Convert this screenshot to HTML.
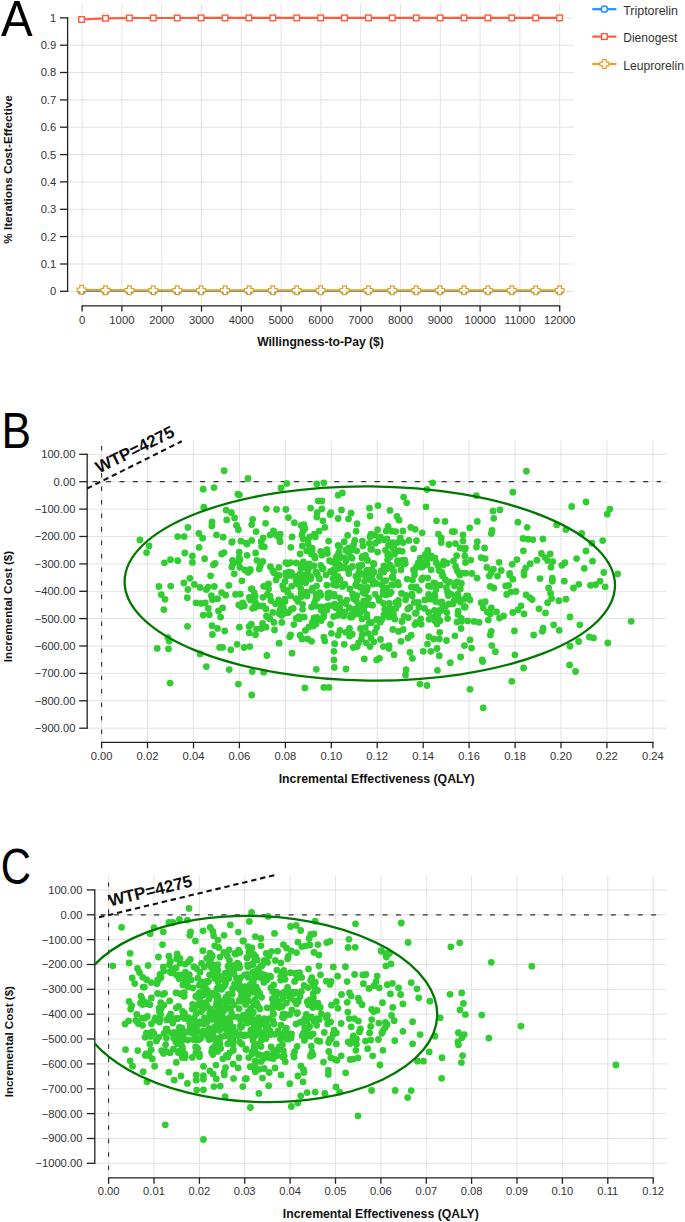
<!DOCTYPE html>
<html><head><meta charset="utf-8"><style>
html,body{margin:0;padding:0;background:#fff;width:685px;height:1222px;overflow:hidden}
svg{display:block}
</style></head><body>
<svg width="685" height="1222" viewBox="0 0 685 1222">
<defs><clipPath id="clipB"><rect x="87.2" y="430" width="600" height="320"/></clipPath><clipPath id="clipC"><rect x="94.8" y="860" width="600" height="330"/></clipPath></defs>
<line x1="82.1" y1="3.5" x2="82.1" y2="306" stroke="#e3e3e3" stroke-width="1"/>
<line x1="121.9" y1="3.5" x2="121.9" y2="306" stroke="#e3e3e3" stroke-width="1"/>
<line x1="161.7" y1="3.5" x2="161.7" y2="306" stroke="#e3e3e3" stroke-width="1"/>
<line x1="201.5" y1="3.5" x2="201.5" y2="306" stroke="#e3e3e3" stroke-width="1"/>
<line x1="241.3" y1="3.5" x2="241.3" y2="306" stroke="#e3e3e3" stroke-width="1"/>
<line x1="281.1" y1="3.5" x2="281.1" y2="306" stroke="#e3e3e3" stroke-width="1"/>
<line x1="320.9" y1="3.5" x2="320.9" y2="306" stroke="#e3e3e3" stroke-width="1"/>
<line x1="360.7" y1="3.5" x2="360.7" y2="306" stroke="#e3e3e3" stroke-width="1"/>
<line x1="400.5" y1="3.5" x2="400.5" y2="306" stroke="#e3e3e3" stroke-width="1"/>
<line x1="440.3" y1="3.5" x2="440.3" y2="306" stroke="#e3e3e3" stroke-width="1"/>
<line x1="480.1" y1="3.5" x2="480.1" y2="306" stroke="#e3e3e3" stroke-width="1"/>
<line x1="519.9" y1="3.5" x2="519.9" y2="306" stroke="#e3e3e3" stroke-width="1"/>
<line x1="559.7" y1="3.5" x2="559.7" y2="306" stroke="#e3e3e3" stroke-width="1"/>
<line x1="68" y1="291.3" x2="574" y2="291.3" stroke="#e3e3e3" stroke-width="1"/>
<line x1="68" y1="264.0" x2="574" y2="264.0" stroke="#e3e3e3" stroke-width="1"/>
<line x1="68" y1="236.6" x2="574" y2="236.6" stroke="#e3e3e3" stroke-width="1"/>
<line x1="68" y1="209.3" x2="574" y2="209.3" stroke="#e3e3e3" stroke-width="1"/>
<line x1="68" y1="181.9" x2="574" y2="181.9" stroke="#e3e3e3" stroke-width="1"/>
<line x1="68" y1="154.6" x2="574" y2="154.6" stroke="#e3e3e3" stroke-width="1"/>
<line x1="68" y1="127.2" x2="574" y2="127.2" stroke="#e3e3e3" stroke-width="1"/>
<line x1="68" y1="99.9" x2="574" y2="99.9" stroke="#e3e3e3" stroke-width="1"/>
<line x1="68" y1="72.5" x2="574" y2="72.5" stroke="#e3e3e3" stroke-width="1"/>
<line x1="68" y1="45.2" x2="574" y2="45.2" stroke="#e3e3e3" stroke-width="1"/>
<line x1="68" y1="17.9" x2="574" y2="17.9" stroke="#e3e3e3" stroke-width="1"/>
<line x1="67.6" y1="17.2" x2="67.6" y2="291.9" stroke="#222" stroke-width="1.3"/>
<line x1="60" y1="291.3" x2="67.6" y2="291.3" stroke="#222" stroke-width="1.3"/>
<text x="56.2" y="295.2" text-anchor="end" font-size="11.2" fill="#333" font-family="Liberation Sans, sans-serif">0</text>
<line x1="60" y1="264.0" x2="67.6" y2="264.0" stroke="#222" stroke-width="1.3"/>
<text x="56.2" y="267.9" text-anchor="end" font-size="11.2" fill="#333" font-family="Liberation Sans, sans-serif">0.1</text>
<line x1="60" y1="236.6" x2="67.6" y2="236.6" stroke="#222" stroke-width="1.3"/>
<text x="56.2" y="240.5" text-anchor="end" font-size="11.2" fill="#333" font-family="Liberation Sans, sans-serif">0.2</text>
<line x1="60" y1="209.3" x2="67.6" y2="209.3" stroke="#222" stroke-width="1.3"/>
<text x="56.2" y="213.2" text-anchor="end" font-size="11.2" fill="#333" font-family="Liberation Sans, sans-serif">0.3</text>
<line x1="60" y1="181.9" x2="67.6" y2="181.9" stroke="#222" stroke-width="1.3"/>
<text x="56.2" y="185.8" text-anchor="end" font-size="11.2" fill="#333" font-family="Liberation Sans, sans-serif">0.4</text>
<line x1="60" y1="154.6" x2="67.6" y2="154.6" stroke="#222" stroke-width="1.3"/>
<text x="56.2" y="158.5" text-anchor="end" font-size="11.2" fill="#333" font-family="Liberation Sans, sans-serif">0.5</text>
<line x1="60" y1="127.2" x2="67.6" y2="127.2" stroke="#222" stroke-width="1.3"/>
<text x="56.2" y="131.1" text-anchor="end" font-size="11.2" fill="#333" font-family="Liberation Sans, sans-serif">0.6</text>
<line x1="60" y1="99.9" x2="67.6" y2="99.9" stroke="#222" stroke-width="1.3"/>
<text x="56.2" y="103.8" text-anchor="end" font-size="11.2" fill="#333" font-family="Liberation Sans, sans-serif">0.7</text>
<line x1="60" y1="72.5" x2="67.6" y2="72.5" stroke="#222" stroke-width="1.3"/>
<text x="56.2" y="76.4" text-anchor="end" font-size="11.2" fill="#333" font-family="Liberation Sans, sans-serif">0.8</text>
<line x1="60" y1="45.2" x2="67.6" y2="45.2" stroke="#222" stroke-width="1.3"/>
<text x="56.2" y="49.1" text-anchor="end" font-size="11.2" fill="#333" font-family="Liberation Sans, sans-serif">0.9</text>
<line x1="60" y1="17.9" x2="67.6" y2="17.9" stroke="#222" stroke-width="1.3"/>
<text x="56.2" y="21.8" text-anchor="end" font-size="11.2" fill="#333" font-family="Liberation Sans, sans-serif">1</text>
<line x1="81.5" y1="305.9" x2="560.3" y2="305.9" stroke="#222" stroke-width="1.3"/>
<line x1="82.1" y1="305.9" x2="82.1" y2="311.6" stroke="#222" stroke-width="1.3"/>
<text x="82.1" y="323.8" text-anchor="middle" font-size="11.3" fill="#333" font-family="Liberation Sans, sans-serif">0</text>
<line x1="121.9" y1="305.9" x2="121.9" y2="311.6" stroke="#222" stroke-width="1.3"/>
<text x="121.9" y="323.8" text-anchor="middle" font-size="11.3" fill="#333" font-family="Liberation Sans, sans-serif">1000</text>
<line x1="161.7" y1="305.9" x2="161.7" y2="311.6" stroke="#222" stroke-width="1.3"/>
<text x="161.7" y="323.8" text-anchor="middle" font-size="11.3" fill="#333" font-family="Liberation Sans, sans-serif">2000</text>
<line x1="201.5" y1="305.9" x2="201.5" y2="311.6" stroke="#222" stroke-width="1.3"/>
<text x="201.5" y="323.8" text-anchor="middle" font-size="11.3" fill="#333" font-family="Liberation Sans, sans-serif">3000</text>
<line x1="241.3" y1="305.9" x2="241.3" y2="311.6" stroke="#222" stroke-width="1.3"/>
<text x="241.3" y="323.8" text-anchor="middle" font-size="11.3" fill="#333" font-family="Liberation Sans, sans-serif">4000</text>
<line x1="281.1" y1="305.9" x2="281.1" y2="311.6" stroke="#222" stroke-width="1.3"/>
<text x="281.1" y="323.8" text-anchor="middle" font-size="11.3" fill="#333" font-family="Liberation Sans, sans-serif">5000</text>
<line x1="320.9" y1="305.9" x2="320.9" y2="311.6" stroke="#222" stroke-width="1.3"/>
<text x="320.9" y="323.8" text-anchor="middle" font-size="11.3" fill="#333" font-family="Liberation Sans, sans-serif">6000</text>
<line x1="360.7" y1="305.9" x2="360.7" y2="311.6" stroke="#222" stroke-width="1.3"/>
<text x="360.7" y="323.8" text-anchor="middle" font-size="11.3" fill="#333" font-family="Liberation Sans, sans-serif">7000</text>
<line x1="400.5" y1="305.9" x2="400.5" y2="311.6" stroke="#222" stroke-width="1.3"/>
<text x="400.5" y="323.8" text-anchor="middle" font-size="11.3" fill="#333" font-family="Liberation Sans, sans-serif">8000</text>
<line x1="440.3" y1="305.9" x2="440.3" y2="311.6" stroke="#222" stroke-width="1.3"/>
<text x="440.3" y="323.8" text-anchor="middle" font-size="11.3" fill="#333" font-family="Liberation Sans, sans-serif">9000</text>
<line x1="480.1" y1="305.9" x2="480.1" y2="311.6" stroke="#222" stroke-width="1.3"/>
<text x="480.1" y="323.8" text-anchor="middle" font-size="11.3" fill="#333" font-family="Liberation Sans, sans-serif">10000</text>
<line x1="519.9" y1="305.9" x2="519.9" y2="311.6" stroke="#222" stroke-width="1.3"/>
<text x="519.9" y="323.8" text-anchor="middle" font-size="11.3" fill="#333" font-family="Liberation Sans, sans-serif">11000</text>
<line x1="559.7" y1="305.9" x2="559.7" y2="311.6" stroke="#222" stroke-width="1.3"/>
<text x="559.7" y="323.8" text-anchor="middle" font-size="11.3" fill="#333" font-family="Liberation Sans, sans-serif">12000</text>
<text x="320.5" y="346.3" text-anchor="middle" font-size="12.1" font-weight="bold" fill="#111" font-family="Liberation Sans, sans-serif" textLength="126.7" lengthAdjust="spacingAndGlyphs">Willingness-to-Pay ($)</text>
<text transform="translate(11.6,169.5) rotate(-90)" text-anchor="middle" font-size="11.8" font-weight="bold" fill="#111" font-family="Liberation Sans, sans-serif" textLength="148.5" lengthAdjust="spacingAndGlyphs">% Iterations Cost-Effective</text>
<text transform="translate(1.1,35.8) scale(1.0,1.045)" font-size="47.5" fill="#000" font-family="Liberation Sans, sans-serif">A</text>
<polyline points="81.6,291.0 105.5,291.0 129.4,291.0 153.3,291.0 177.2,291.0 201.1,291.0 225.0,291.0 248.9,291.0 272.8,291.0 296.7,291.0 320.6,291.0 344.5,291.0 368.4,291.0 392.3,291.0 416.2,291.0 440.1,291.0 464.0,291.0 487.9,291.0 511.8,291.0 535.7,291.0 559.6,291.0" fill="none" stroke="#1e8fff" stroke-width="2"/>
<circle cx="81.6" cy="291.0" r="3.2" fill="#fff" stroke="#1e8fff" stroke-width="1.5"/>
<circle cx="105.5" cy="291.0" r="3.2" fill="#fff" stroke="#1e8fff" stroke-width="1.5"/>
<circle cx="129.4" cy="291.0" r="3.2" fill="#fff" stroke="#1e8fff" stroke-width="1.5"/>
<circle cx="153.3" cy="291.0" r="3.2" fill="#fff" stroke="#1e8fff" stroke-width="1.5"/>
<circle cx="177.2" cy="291.0" r="3.2" fill="#fff" stroke="#1e8fff" stroke-width="1.5"/>
<circle cx="201.1" cy="291.0" r="3.2" fill="#fff" stroke="#1e8fff" stroke-width="1.5"/>
<circle cx="225.0" cy="291.0" r="3.2" fill="#fff" stroke="#1e8fff" stroke-width="1.5"/>
<circle cx="248.9" cy="291.0" r="3.2" fill="#fff" stroke="#1e8fff" stroke-width="1.5"/>
<circle cx="272.8" cy="291.0" r="3.2" fill="#fff" stroke="#1e8fff" stroke-width="1.5"/>
<circle cx="296.7" cy="291.0" r="3.2" fill="#fff" stroke="#1e8fff" stroke-width="1.5"/>
<circle cx="320.6" cy="291.0" r="3.2" fill="#fff" stroke="#1e8fff" stroke-width="1.5"/>
<circle cx="344.5" cy="291.0" r="3.2" fill="#fff" stroke="#1e8fff" stroke-width="1.5"/>
<circle cx="368.4" cy="291.0" r="3.2" fill="#fff" stroke="#1e8fff" stroke-width="1.5"/>
<circle cx="392.3" cy="291.0" r="3.2" fill="#fff" stroke="#1e8fff" stroke-width="1.5"/>
<circle cx="416.2" cy="291.0" r="3.2" fill="#fff" stroke="#1e8fff" stroke-width="1.5"/>
<circle cx="440.1" cy="291.0" r="3.2" fill="#fff" stroke="#1e8fff" stroke-width="1.5"/>
<circle cx="464.0" cy="291.0" r="3.2" fill="#fff" stroke="#1e8fff" stroke-width="1.5"/>
<circle cx="487.9" cy="291.0" r="3.2" fill="#fff" stroke="#1e8fff" stroke-width="1.5"/>
<circle cx="511.8" cy="291.0" r="3.2" fill="#fff" stroke="#1e8fff" stroke-width="1.5"/>
<circle cx="535.7" cy="291.0" r="3.2" fill="#fff" stroke="#1e8fff" stroke-width="1.5"/>
<circle cx="559.6" cy="291.0" r="3.2" fill="#fff" stroke="#1e8fff" stroke-width="1.5"/>
<polyline points="81.6,19.5 105.5,18.3 129.4,18.0 153.3,18.0 177.2,18.0 201.1,17.9 225.0,17.9 248.9,17.9 272.8,17.9 296.7,17.9 320.6,17.9 344.5,17.9 368.4,17.9 392.3,17.9 416.2,17.9 440.1,17.9 464.0,17.9 487.9,17.9 511.8,17.9 535.7,17.9 559.6,17.9" fill="none" stroke="#ff5a3c" stroke-width="2.2"/>
<rect x="78.8" y="16.7" width="5.6" height="5.6" fill="#fff" stroke="#ff5a3c" stroke-width="1.4"/>
<rect x="102.7" y="15.5" width="5.6" height="5.6" fill="#fff" stroke="#ff5a3c" stroke-width="1.4"/>
<rect x="126.6" y="15.2" width="5.6" height="5.6" fill="#fff" stroke="#ff5a3c" stroke-width="1.4"/>
<rect x="150.5" y="15.2" width="5.6" height="5.6" fill="#fff" stroke="#ff5a3c" stroke-width="1.4"/>
<rect x="174.4" y="15.2" width="5.6" height="5.6" fill="#fff" stroke="#ff5a3c" stroke-width="1.4"/>
<rect x="198.3" y="15.1" width="5.6" height="5.6" fill="#fff" stroke="#ff5a3c" stroke-width="1.4"/>
<rect x="222.2" y="15.1" width="5.6" height="5.6" fill="#fff" stroke="#ff5a3c" stroke-width="1.4"/>
<rect x="246.1" y="15.1" width="5.6" height="5.6" fill="#fff" stroke="#ff5a3c" stroke-width="1.4"/>
<rect x="270.0" y="15.1" width="5.6" height="5.6" fill="#fff" stroke="#ff5a3c" stroke-width="1.4"/>
<rect x="293.9" y="15.1" width="5.6" height="5.6" fill="#fff" stroke="#ff5a3c" stroke-width="1.4"/>
<rect x="317.8" y="15.1" width="5.6" height="5.6" fill="#fff" stroke="#ff5a3c" stroke-width="1.4"/>
<rect x="341.7" y="15.1" width="5.6" height="5.6" fill="#fff" stroke="#ff5a3c" stroke-width="1.4"/>
<rect x="365.6" y="15.1" width="5.6" height="5.6" fill="#fff" stroke="#ff5a3c" stroke-width="1.4"/>
<rect x="389.5" y="15.1" width="5.6" height="5.6" fill="#fff" stroke="#ff5a3c" stroke-width="1.4"/>
<rect x="413.4" y="15.1" width="5.6" height="5.6" fill="#fff" stroke="#ff5a3c" stroke-width="1.4"/>
<rect x="437.3" y="15.1" width="5.6" height="5.6" fill="#fff" stroke="#ff5a3c" stroke-width="1.4"/>
<rect x="461.2" y="15.1" width="5.6" height="5.6" fill="#fff" stroke="#ff5a3c" stroke-width="1.4"/>
<rect x="485.1" y="15.1" width="5.6" height="5.6" fill="#fff" stroke="#ff5a3c" stroke-width="1.4"/>
<rect x="509.0" y="15.1" width="5.6" height="5.6" fill="#fff" stroke="#ff5a3c" stroke-width="1.4"/>
<rect x="532.9" y="15.1" width="5.6" height="5.6" fill="#fff" stroke="#ff5a3c" stroke-width="1.4"/>
<rect x="556.8" y="15.1" width="5.6" height="5.6" fill="#fff" stroke="#ff5a3c" stroke-width="1.4"/>
<polyline points="81.6,289.8 105.5,290.2 129.4,290.3 153.3,290.3 177.2,290.3 201.1,290.3 225.0,290.3 248.9,290.3 272.8,290.3 296.7,290.3 320.6,290.3 344.5,290.3 368.4,290.3 392.3,290.3 416.2,290.3 440.1,290.3 464.0,290.3 487.9,290.3 511.8,290.3 535.7,290.3 559.6,290.3" fill="none" stroke="#e2a124" stroke-width="2.2"/>
<path d="M79.8,285.4h3.6v2.6h2.6v3.6h-2.6v2.6h-3.6v-2.6h-2.6v-3.6h2.6z" fill="#fff" stroke="#e2a124" stroke-width="1.2"/>
<path d="M103.7,285.8h3.6v2.6h2.6v3.6h-2.6v2.6h-3.6v-2.6h-2.6v-3.6h2.6z" fill="#fff" stroke="#e2a124" stroke-width="1.2"/>
<path d="M127.6,285.9h3.6v2.6h2.6v3.6h-2.6v2.6h-3.6v-2.6h-2.6v-3.6h2.6z" fill="#fff" stroke="#e2a124" stroke-width="1.2"/>
<path d="M151.5,285.9h3.6v2.6h2.6v3.6h-2.6v2.6h-3.6v-2.6h-2.6v-3.6h2.6z" fill="#fff" stroke="#e2a124" stroke-width="1.2"/>
<path d="M175.4,285.9h3.6v2.6h2.6v3.6h-2.6v2.6h-3.6v-2.6h-2.6v-3.6h2.6z" fill="#fff" stroke="#e2a124" stroke-width="1.2"/>
<path d="M199.3,285.9h3.6v2.6h2.6v3.6h-2.6v2.6h-3.6v-2.6h-2.6v-3.6h2.6z" fill="#fff" stroke="#e2a124" stroke-width="1.2"/>
<path d="M223.2,285.9h3.6v2.6h2.6v3.6h-2.6v2.6h-3.6v-2.6h-2.6v-3.6h2.6z" fill="#fff" stroke="#e2a124" stroke-width="1.2"/>
<path d="M247.1,285.9h3.6v2.6h2.6v3.6h-2.6v2.6h-3.6v-2.6h-2.6v-3.6h2.6z" fill="#fff" stroke="#e2a124" stroke-width="1.2"/>
<path d="M271.0,285.9h3.6v2.6h2.6v3.6h-2.6v2.6h-3.6v-2.6h-2.6v-3.6h2.6z" fill="#fff" stroke="#e2a124" stroke-width="1.2"/>
<path d="M294.9,285.9h3.6v2.6h2.6v3.6h-2.6v2.6h-3.6v-2.6h-2.6v-3.6h2.6z" fill="#fff" stroke="#e2a124" stroke-width="1.2"/>
<path d="M318.8,285.9h3.6v2.6h2.6v3.6h-2.6v2.6h-3.6v-2.6h-2.6v-3.6h2.6z" fill="#fff" stroke="#e2a124" stroke-width="1.2"/>
<path d="M342.7,285.9h3.6v2.6h2.6v3.6h-2.6v2.6h-3.6v-2.6h-2.6v-3.6h2.6z" fill="#fff" stroke="#e2a124" stroke-width="1.2"/>
<path d="M366.6,285.9h3.6v2.6h2.6v3.6h-2.6v2.6h-3.6v-2.6h-2.6v-3.6h2.6z" fill="#fff" stroke="#e2a124" stroke-width="1.2"/>
<path d="M390.5,285.9h3.6v2.6h2.6v3.6h-2.6v2.6h-3.6v-2.6h-2.6v-3.6h2.6z" fill="#fff" stroke="#e2a124" stroke-width="1.2"/>
<path d="M414.4,285.9h3.6v2.6h2.6v3.6h-2.6v2.6h-3.6v-2.6h-2.6v-3.6h2.6z" fill="#fff" stroke="#e2a124" stroke-width="1.2"/>
<path d="M438.3,285.9h3.6v2.6h2.6v3.6h-2.6v2.6h-3.6v-2.6h-2.6v-3.6h2.6z" fill="#fff" stroke="#e2a124" stroke-width="1.2"/>
<path d="M462.2,285.9h3.6v2.6h2.6v3.6h-2.6v2.6h-3.6v-2.6h-2.6v-3.6h2.6z" fill="#fff" stroke="#e2a124" stroke-width="1.2"/>
<path d="M486.1,285.9h3.6v2.6h2.6v3.6h-2.6v2.6h-3.6v-2.6h-2.6v-3.6h2.6z" fill="#fff" stroke="#e2a124" stroke-width="1.2"/>
<path d="M510.0,285.9h3.6v2.6h2.6v3.6h-2.6v2.6h-3.6v-2.6h-2.6v-3.6h2.6z" fill="#fff" stroke="#e2a124" stroke-width="1.2"/>
<path d="M533.9,285.9h3.6v2.6h2.6v3.6h-2.6v2.6h-3.6v-2.6h-2.6v-3.6h2.6z" fill="#fff" stroke="#e2a124" stroke-width="1.2"/>
<path d="M557.8,285.9h3.6v2.6h2.6v3.6h-2.6v2.6h-3.6v-2.6h-2.6v-3.6h2.6z" fill="#fff" stroke="#e2a124" stroke-width="1.2"/>
<line x1="592.3" y1="9.2" x2="616.4" y2="9.2" stroke="#1e8fff" stroke-width="2.2"/>
<circle cx="604.4" cy="9.2" r="3.1" fill="#fff" stroke="#1e8fff" stroke-width="1.5"/>
<text x="623.2" y="14.9" font-size="12.2" fill="#333" font-family="Liberation Sans, sans-serif" textLength="54.8" lengthAdjust="spacingAndGlyphs">Triptorelin</text>
<line x1="592.3" y1="36.6" x2="616.4" y2="36.6" stroke="#ff5a3c" stroke-width="2.2"/>
<rect x="601.6" y="33.800000000000004" width="5.6" height="5.6" fill="#fff" stroke="#ff5a3c" stroke-width="1.4"/>
<text x="623.2" y="42.3" font-size="12.2" fill="#333" font-family="Liberation Sans, sans-serif" textLength="54.2" lengthAdjust="spacingAndGlyphs">Dienogest</text>
<line x1="592.3" y1="64" x2="616.4" y2="64" stroke="#e2a124" stroke-width="2.2"/>
<path d="M602.6,59.6h3.6v2.6h2.6v3.6h-2.6v2.6h-3.6v-2.6h-2.6v-3.6h2.6z" fill="#fff" stroke="#e2a124" stroke-width="1.2"/>
<text x="623.2" y="69.7" font-size="12.2" fill="#333" font-family="Liberation Sans, sans-serif" textLength="60.8" lengthAdjust="spacingAndGlyphs">Leuprorelin</text>
<line x1="101.6" y1="440.2" x2="101.6" y2="742.3" stroke="#e3e3e3" stroke-width="1"/>
<line x1="147.5" y1="440.2" x2="147.5" y2="742.3" stroke="#e3e3e3" stroke-width="1"/>
<line x1="193.5" y1="440.2" x2="193.5" y2="742.3" stroke="#e3e3e3" stroke-width="1"/>
<line x1="239.4" y1="440.2" x2="239.4" y2="742.3" stroke="#e3e3e3" stroke-width="1"/>
<line x1="285.4" y1="440.2" x2="285.4" y2="742.3" stroke="#e3e3e3" stroke-width="1"/>
<line x1="331.3" y1="440.2" x2="331.3" y2="742.3" stroke="#e3e3e3" stroke-width="1"/>
<line x1="377.2" y1="440.2" x2="377.2" y2="742.3" stroke="#e3e3e3" stroke-width="1"/>
<line x1="423.2" y1="440.2" x2="423.2" y2="742.3" stroke="#e3e3e3" stroke-width="1"/>
<line x1="469.1" y1="440.2" x2="469.1" y2="742.3" stroke="#e3e3e3" stroke-width="1"/>
<line x1="515.1" y1="440.2" x2="515.1" y2="742.3" stroke="#e3e3e3" stroke-width="1"/>
<line x1="561.0" y1="440.2" x2="561.0" y2="742.3" stroke="#e3e3e3" stroke-width="1"/>
<line x1="606.9" y1="440.2" x2="606.9" y2="742.3" stroke="#e3e3e3" stroke-width="1"/>
<line x1="652.9" y1="440.2" x2="652.9" y2="742.3" stroke="#e3e3e3" stroke-width="1"/>
<line x1="87.2" y1="454.3" x2="667" y2="454.3" stroke="#e3e3e3" stroke-width="1"/>
<line x1="87.2" y1="481.7" x2="667" y2="481.7" stroke="#e3e3e3" stroke-width="1"/>
<line x1="87.2" y1="509.1" x2="667" y2="509.1" stroke="#e3e3e3" stroke-width="1"/>
<line x1="87.2" y1="536.5" x2="667" y2="536.5" stroke="#e3e3e3" stroke-width="1"/>
<line x1="87.2" y1="563.9" x2="667" y2="563.9" stroke="#e3e3e3" stroke-width="1"/>
<line x1="87.2" y1="591.3" x2="667" y2="591.3" stroke="#e3e3e3" stroke-width="1"/>
<line x1="87.2" y1="618.6" x2="667" y2="618.6" stroke="#e3e3e3" stroke-width="1"/>
<line x1="87.2" y1="646.0" x2="667" y2="646.0" stroke="#e3e3e3" stroke-width="1"/>
<line x1="87.2" y1="673.4" x2="667" y2="673.4" stroke="#e3e3e3" stroke-width="1"/>
<line x1="87.2" y1="700.8" x2="667" y2="700.8" stroke="#e3e3e3" stroke-width="1"/>
<line x1="87.2" y1="728.2" x2="667" y2="728.2" stroke="#e3e3e3" stroke-width="1"/>
<line x1="87.2" y1="453.7" x2="87.2" y2="728.8" stroke="#222" stroke-width="1.3"/>
<line x1="79.2" y1="454.3" x2="87.2" y2="454.3" stroke="#222" stroke-width="1.3"/>
<text x="75.4" y="458.2" text-anchor="end" font-size="11.2" fill="#333" font-family="Liberation Sans, sans-serif">100.00</text>
<line x1="79.2" y1="481.7" x2="87.2" y2="481.7" stroke="#222" stroke-width="1.3"/>
<text x="75.4" y="485.6" text-anchor="end" font-size="11.2" fill="#333" font-family="Liberation Sans, sans-serif">0.00</text>
<line x1="79.2" y1="509.1" x2="87.2" y2="509.1" stroke="#222" stroke-width="1.3"/>
<text x="75.4" y="513.0" text-anchor="end" font-size="11.2" fill="#333" font-family="Liberation Sans, sans-serif">−100.00</text>
<line x1="79.2" y1="536.5" x2="87.2" y2="536.5" stroke="#222" stroke-width="1.3"/>
<text x="75.4" y="540.4" text-anchor="end" font-size="11.2" fill="#333" font-family="Liberation Sans, sans-serif">−200.00</text>
<line x1="79.2" y1="563.9" x2="87.2" y2="563.9" stroke="#222" stroke-width="1.3"/>
<text x="75.4" y="567.8" text-anchor="end" font-size="11.2" fill="#333" font-family="Liberation Sans, sans-serif">−300.00</text>
<line x1="79.2" y1="591.3" x2="87.2" y2="591.3" stroke="#222" stroke-width="1.3"/>
<text x="75.4" y="595.2" text-anchor="end" font-size="11.2" fill="#333" font-family="Liberation Sans, sans-serif">−400.00</text>
<line x1="79.2" y1="618.6" x2="87.2" y2="618.6" stroke="#222" stroke-width="1.3"/>
<text x="75.4" y="622.5" text-anchor="end" font-size="11.2" fill="#333" font-family="Liberation Sans, sans-serif">−500.00</text>
<line x1="79.2" y1="646.0" x2="87.2" y2="646.0" stroke="#222" stroke-width="1.3"/>
<text x="75.4" y="649.9" text-anchor="end" font-size="11.2" fill="#333" font-family="Liberation Sans, sans-serif">−600.00</text>
<line x1="79.2" y1="673.4" x2="87.2" y2="673.4" stroke="#222" stroke-width="1.3"/>
<text x="75.4" y="677.3" text-anchor="end" font-size="11.2" fill="#333" font-family="Liberation Sans, sans-serif">−700.00</text>
<line x1="79.2" y1="700.8" x2="87.2" y2="700.8" stroke="#222" stroke-width="1.3"/>
<text x="75.4" y="704.7" text-anchor="end" font-size="11.2" fill="#333" font-family="Liberation Sans, sans-serif">−800.00</text>
<line x1="79.2" y1="728.2" x2="87.2" y2="728.2" stroke="#222" stroke-width="1.3"/>
<text x="75.4" y="732.1" text-anchor="end" font-size="11.2" fill="#333" font-family="Liberation Sans, sans-serif">−900.00</text>
<line x1="101.0" y1="742.3" x2="653.5" y2="742.3" stroke="#222" stroke-width="1.3"/>
<line x1="101.6" y1="742.3" x2="101.6" y2="748.3" stroke="#222" stroke-width="1.3"/>
<text x="101.6" y="760.3" text-anchor="middle" font-size="11.2" fill="#333" font-family="Liberation Sans, sans-serif">0.00</text>
<line x1="147.5" y1="742.3" x2="147.5" y2="748.3" stroke="#222" stroke-width="1.3"/>
<text x="147.5" y="760.3" text-anchor="middle" font-size="11.2" fill="#333" font-family="Liberation Sans, sans-serif">0.02</text>
<line x1="193.5" y1="742.3" x2="193.5" y2="748.3" stroke="#222" stroke-width="1.3"/>
<text x="193.5" y="760.3" text-anchor="middle" font-size="11.2" fill="#333" font-family="Liberation Sans, sans-serif">0.04</text>
<line x1="239.4" y1="742.3" x2="239.4" y2="748.3" stroke="#222" stroke-width="1.3"/>
<text x="239.4" y="760.3" text-anchor="middle" font-size="11.2" fill="#333" font-family="Liberation Sans, sans-serif">0.06</text>
<line x1="285.4" y1="742.3" x2="285.4" y2="748.3" stroke="#222" stroke-width="1.3"/>
<text x="285.4" y="760.3" text-anchor="middle" font-size="11.2" fill="#333" font-family="Liberation Sans, sans-serif">0.08</text>
<line x1="331.3" y1="742.3" x2="331.3" y2="748.3" stroke="#222" stroke-width="1.3"/>
<text x="331.3" y="760.3" text-anchor="middle" font-size="11.2" fill="#333" font-family="Liberation Sans, sans-serif">0.10</text>
<line x1="377.2" y1="742.3" x2="377.2" y2="748.3" stroke="#222" stroke-width="1.3"/>
<text x="377.2" y="760.3" text-anchor="middle" font-size="11.2" fill="#333" font-family="Liberation Sans, sans-serif">0.12</text>
<line x1="423.2" y1="742.3" x2="423.2" y2="748.3" stroke="#222" stroke-width="1.3"/>
<text x="423.2" y="760.3" text-anchor="middle" font-size="11.2" fill="#333" font-family="Liberation Sans, sans-serif">0.14</text>
<line x1="469.1" y1="742.3" x2="469.1" y2="748.3" stroke="#222" stroke-width="1.3"/>
<text x="469.1" y="760.3" text-anchor="middle" font-size="11.2" fill="#333" font-family="Liberation Sans, sans-serif">0.16</text>
<line x1="515.1" y1="742.3" x2="515.1" y2="748.3" stroke="#222" stroke-width="1.3"/>
<text x="515.1" y="760.3" text-anchor="middle" font-size="11.2" fill="#333" font-family="Liberation Sans, sans-serif">0.18</text>
<line x1="561.0" y1="742.3" x2="561.0" y2="748.3" stroke="#222" stroke-width="1.3"/>
<text x="561.0" y="760.3" text-anchor="middle" font-size="11.2" fill="#333" font-family="Liberation Sans, sans-serif">0.20</text>
<line x1="606.9" y1="742.3" x2="606.9" y2="748.3" stroke="#222" stroke-width="1.3"/>
<text x="606.9" y="760.3" text-anchor="middle" font-size="11.2" fill="#333" font-family="Liberation Sans, sans-serif">0.22</text>
<line x1="652.9" y1="742.3" x2="652.9" y2="748.3" stroke="#222" stroke-width="1.3"/>
<text x="652.9" y="760.3" text-anchor="middle" font-size="11.2" fill="#333" font-family="Liberation Sans, sans-serif">0.24</text>
<line x1="101.6" y1="446" x2="101.6" y2="734" stroke="#333" stroke-width="1.1" stroke-dasharray="4.5 9"/>
<line x1="92.6" y1="481.7" x2="661" y2="481.7" stroke="#333" stroke-width="1.3" stroke-dasharray="5 8.43"/>
<g fill="#32cd32"><circle cx="404.1" cy="616.3" r="3.4"/><circle cx="460.3" cy="602.0" r="3.4"/><circle cx="315.8" cy="606.0" r="3.4"/><circle cx="406.2" cy="595.4" r="3.4"/><circle cx="372.5" cy="605.2" r="3.4"/><circle cx="296.1" cy="576.3" r="3.4"/><circle cx="321.3" cy="606.8" r="3.4"/><circle cx="373.9" cy="571.9" r="3.4"/><circle cx="291.6" cy="572.6" r="3.4"/><circle cx="370.7" cy="572.5" r="3.4"/><circle cx="352.4" cy="566.5" r="3.4"/><circle cx="391.1" cy="592.3" r="3.4"/><circle cx="434.4" cy="610.3" r="3.4"/><circle cx="386.5" cy="587.9" r="3.4"/><circle cx="247.1" cy="555.3" r="3.4"/><circle cx="362.9" cy="545.9" r="3.4"/><circle cx="359.9" cy="587.2" r="3.4"/><circle cx="373.5" cy="563.4" r="3.4"/><circle cx="429.0" cy="619.3" r="3.4"/><circle cx="402.2" cy="551.3" r="3.4"/><circle cx="443.3" cy="564.2" r="3.4"/><circle cx="461.4" cy="583.5" r="3.4"/><circle cx="244.8" cy="569.9" r="3.4"/><circle cx="375.1" cy="594.3" r="3.4"/><circle cx="390.0" cy="565.1" r="3.4"/><circle cx="393.1" cy="613.8" r="3.4"/><circle cx="288.3" cy="612.6" r="3.4"/><circle cx="394.9" cy="619.2" r="3.4"/><circle cx="358.9" cy="565.7" r="3.4"/><circle cx="447.4" cy="591.8" r="3.4"/><circle cx="458.1" cy="611.2" r="3.4"/><circle cx="305.7" cy="582.8" r="3.4"/><circle cx="414.3" cy="602.4" r="3.4"/><circle cx="457.5" cy="594.4" r="3.4"/><circle cx="360.4" cy="573.1" r="3.4"/><circle cx="355.9" cy="584.6" r="3.4"/><circle cx="304.3" cy="617.1" r="3.4"/><circle cx="357.0" cy="609.9" r="3.4"/><circle cx="300.8" cy="588.6" r="3.4"/><circle cx="350.3" cy="617.1" r="3.4"/><circle cx="373.2" cy="584.0" r="3.4"/><circle cx="298.1" cy="601.4" r="3.4"/><circle cx="266.0" cy="609.0" r="3.4"/><circle cx="244.3" cy="605.7" r="3.4"/><circle cx="285.8" cy="562.6" r="3.4"/><circle cx="334.7" cy="604.2" r="3.4"/><circle cx="329.1" cy="594.1" r="3.4"/><circle cx="352.4" cy="549.8" r="3.4"/><circle cx="338.1" cy="545.5" r="3.4"/><circle cx="364.5" cy="581.3" r="3.4"/><circle cx="421.2" cy="567.2" r="3.4"/><circle cx="346.8" cy="600.1" r="3.4"/><circle cx="453.5" cy="560.8" r="3.4"/><circle cx="264.3" cy="546.8" r="3.4"/><circle cx="252.0" cy="588.8" r="3.4"/><circle cx="460.0" cy="574.9" r="3.4"/><circle cx="306.7" cy="592.1" r="3.4"/><circle cx="439.7" cy="610.4" r="3.4"/><circle cx="310.5" cy="577.9" r="3.4"/><circle cx="362.5" cy="587.7" r="3.4"/><circle cx="366.7" cy="590.3" r="3.4"/><circle cx="419.1" cy="590.3" r="3.4"/><circle cx="291.7" cy="586.2" r="3.4"/><circle cx="263.0" cy="597.3" r="3.4"/><circle cx="302.4" cy="581.9" r="3.4"/><circle cx="272.8" cy="570.9" r="3.4"/><circle cx="420.3" cy="558.2" r="3.4"/><circle cx="346.0" cy="560.9" r="3.4"/><circle cx="326.0" cy="574.9" r="3.4"/><circle cx="336.3" cy="585.4" r="3.4"/><circle cx="340.2" cy="613.1" r="3.4"/><circle cx="337.5" cy="577.7" r="3.4"/><circle cx="303.4" cy="562.0" r="3.4"/><circle cx="242.9" cy="602.9" r="3.4"/><circle cx="255.6" cy="552.9" r="3.4"/><circle cx="405.6" cy="599.7" r="3.4"/><circle cx="411.8" cy="594.1" r="3.4"/><circle cx="379.5" cy="576.5" r="3.4"/><circle cx="334.1" cy="596.0" r="3.4"/><circle cx="335.8" cy="580.8" r="3.4"/><circle cx="394.7" cy="554.0" r="3.4"/><circle cx="438.0" cy="565.4" r="3.4"/><circle cx="282.7" cy="585.7" r="3.4"/><circle cx="414.5" cy="574.8" r="3.4"/><circle cx="283.2" cy="607.3" r="3.4"/><circle cx="372.6" cy="581.3" r="3.4"/><circle cx="460.1" cy="548.0" r="3.4"/><circle cx="307.0" cy="596.1" r="3.4"/><circle cx="300.1" cy="553.9" r="3.4"/><circle cx="456.1" cy="582.6" r="3.4"/><circle cx="455.6" cy="566.4" r="3.4"/><circle cx="341.4" cy="602.5" r="3.4"/><circle cx="278.6" cy="600.0" r="3.4"/><circle cx="390.0" cy="556.9" r="3.4"/><circle cx="281.8" cy="622.4" r="3.4"/><circle cx="384.0" cy="614.6" r="3.4"/><circle cx="383.2" cy="594.0" r="3.4"/><circle cx="291.1" cy="609.3" r="3.4"/><circle cx="310.5" cy="576.7" r="3.4"/><circle cx="321.8" cy="555.2" r="3.4"/><circle cx="383.7" cy="572.0" r="3.4"/><circle cx="401.9" cy="621.5" r="3.4"/><circle cx="306.7" cy="550.8" r="3.4"/><circle cx="333.1" cy="578.6" r="3.4"/><circle cx="361.9" cy="557.9" r="3.4"/><circle cx="278.9" cy="567.4" r="3.4"/><circle cx="277.7" cy="575.2" r="3.4"/><circle cx="317.3" cy="620.2" r="3.4"/><circle cx="433.7" cy="582.8" r="3.4"/><circle cx="259.5" cy="606.0" r="3.4"/><circle cx="238.4" cy="562.6" r="3.4"/><circle cx="389.9" cy="608.0" r="3.4"/><circle cx="377.6" cy="552.1" r="3.4"/><circle cx="314.0" cy="618.0" r="3.4"/><circle cx="454.2" cy="600.7" r="3.4"/><circle cx="457.4" cy="570.9" r="3.4"/><circle cx="427.1" cy="564.5" r="3.4"/><circle cx="437.0" cy="623.9" r="3.4"/><circle cx="296.1" cy="580.8" r="3.4"/><circle cx="415.4" cy="613.4" r="3.4"/><circle cx="421.2" cy="624.3" r="3.4"/><circle cx="302.6" cy="604.3" r="3.4"/><circle cx="369.3" cy="622.7" r="3.4"/><circle cx="279.4" cy="575.3" r="3.4"/><circle cx="428.1" cy="554.1" r="3.4"/><circle cx="437.8" cy="614.6" r="3.4"/><circle cx="358.7" cy="573.1" r="3.4"/><circle cx="388.6" cy="592.9" r="3.4"/><circle cx="282.8" cy="612.1" r="3.4"/><circle cx="232.5" cy="560.3" r="3.4"/><circle cx="464.0" cy="599.3" r="3.4"/><circle cx="250.1" cy="569.4" r="3.4"/><circle cx="251.3" cy="624.2" r="3.4"/><circle cx="456.7" cy="555.6" r="3.4"/><circle cx="460.3" cy="589.1" r="3.4"/><circle cx="355.8" cy="585.6" r="3.4"/><circle cx="349.3" cy="607.7" r="3.4"/><circle cx="401.0" cy="569.9" r="3.4"/><circle cx="470.8" cy="560.1" r="3.4"/><circle cx="398.4" cy="600.4" r="3.4"/><circle cx="350.6" cy="556.6" r="3.4"/><circle cx="428.5" cy="585.9" r="3.4"/><circle cx="314.4" cy="556.1" r="3.4"/><circle cx="456.7" cy="598.4" r="3.4"/><circle cx="326.9" cy="585.2" r="3.4"/><circle cx="461.3" cy="573.1" r="3.4"/><circle cx="373.8" cy="564.3" r="3.4"/><circle cx="291.5" cy="575.5" r="3.4"/><circle cx="327.9" cy="593.6" r="3.4"/><circle cx="372.2" cy="574.3" r="3.4"/><circle cx="349.8" cy="589.0" r="3.4"/><circle cx="413.6" cy="548.7" r="3.4"/><circle cx="395.7" cy="608.4" r="3.4"/><circle cx="386.1" cy="594.9" r="3.4"/><circle cx="429.1" cy="557.6" r="3.4"/><circle cx="345.7" cy="603.5" r="3.4"/><circle cx="470.0" cy="600.0" r="3.4"/><circle cx="356.7" cy="550.8" r="3.4"/><circle cx="251.3" cy="588.8" r="3.4"/><circle cx="387.2" cy="568.6" r="3.4"/><circle cx="393.1" cy="584.8" r="3.4"/><circle cx="249.1" cy="626.4" r="3.4"/><circle cx="280.6" cy="609.2" r="3.4"/><circle cx="428.6" cy="594.3" r="3.4"/><circle cx="239.0" cy="558.0" r="3.4"/><circle cx="286.5" cy="576.3" r="3.4"/><circle cx="450.8" cy="594.1" r="3.4"/><circle cx="464.2" cy="606.9" r="3.4"/><circle cx="240.1" cy="559.8" r="3.4"/><circle cx="311.6" cy="607.0" r="3.4"/><circle cx="371.5" cy="622.5" r="3.4"/><circle cx="272.8" cy="612.4" r="3.4"/><circle cx="256.9" cy="560.3" r="3.4"/><circle cx="449.9" cy="593.8" r="3.4"/><circle cx="364.5" cy="592.9" r="3.4"/><circle cx="296.2" cy="618.3" r="3.4"/><circle cx="474.2" cy="621.4" r="3.4"/><circle cx="316.6" cy="586.1" r="3.4"/><circle cx="438.1" cy="618.9" r="3.4"/><circle cx="357.0" cy="595.6" r="3.4"/><circle cx="439.0" cy="570.6" r="3.4"/><circle cx="465.8" cy="573.2" r="3.4"/><circle cx="298.9" cy="616.6" r="3.4"/><circle cx="263.6" cy="586.3" r="3.4"/><circle cx="283.9" cy="610.7" r="3.4"/><circle cx="367.6" cy="571.2" r="3.4"/><circle cx="382.4" cy="618.8" r="3.4"/><circle cx="345.1" cy="612.2" r="3.4"/><circle cx="441.9" cy="601.8" r="3.4"/><circle cx="339.5" cy="556.2" r="3.4"/><circle cx="285.0" cy="601.6" r="3.4"/><circle cx="465.4" cy="548.1" r="3.4"/><circle cx="322.2" cy="569.1" r="3.4"/><circle cx="435.9" cy="589.5" r="3.4"/><circle cx="409.9" cy="607.4" r="3.4"/><circle cx="314.3" cy="623.8" r="3.4"/><circle cx="387.5" cy="559.9" r="3.4"/><circle cx="262.8" cy="561.5" r="3.4"/><circle cx="329.6" cy="560.7" r="3.4"/><circle cx="388.4" cy="554.0" r="3.4"/><circle cx="448.3" cy="595.5" r="3.4"/><circle cx="316.9" cy="617.4" r="3.4"/><circle cx="282.2" cy="608.2" r="3.4"/><circle cx="275.4" cy="603.8" r="3.4"/><circle cx="287.6" cy="563.8" r="3.4"/><circle cx="262.6" cy="623.5" r="3.4"/><circle cx="416.1" cy="622.7" r="3.4"/><circle cx="338.6" cy="605.6" r="3.4"/><circle cx="315.0" cy="558.0" r="3.4"/><circle cx="316.3" cy="594.4" r="3.4"/><circle cx="312.1" cy="548.2" r="3.4"/><circle cx="312.4" cy="588.2" r="3.4"/><circle cx="254.2" cy="592.8" r="3.4"/><circle cx="369.9" cy="604.6" r="3.4"/><circle cx="330.5" cy="624.5" r="3.4"/><circle cx="290.8" cy="547.3" r="3.4"/><circle cx="308.2" cy="544.0" r="3.4"/><circle cx="467.7" cy="620.9" r="3.4"/><circle cx="397.5" cy="560.7" r="3.4"/><circle cx="254.3" cy="600.2" r="3.4"/><circle cx="352.1" cy="558.3" r="3.4"/><circle cx="465.0" cy="606.7" r="3.4"/><circle cx="239.9" cy="567.3" r="3.4"/><circle cx="250.3" cy="600.1" r="3.4"/><circle cx="308.6" cy="567.7" r="3.4"/><circle cx="383.2" cy="590.8" r="3.4"/><circle cx="313.8" cy="565.7" r="3.4"/><circle cx="385.5" cy="550.3" r="3.4"/><circle cx="285.3" cy="612.9" r="3.4"/><circle cx="461.5" cy="621.3" r="3.4"/><circle cx="339.4" cy="612.4" r="3.4"/><circle cx="302.3" cy="546.0" r="3.4"/><circle cx="247.7" cy="571.9" r="3.4"/><circle cx="300.0" cy="578.8" r="3.4"/><circle cx="458.2" cy="597.9" r="3.4"/><circle cx="241.9" cy="580.8" r="3.4"/><circle cx="320.8" cy="595.2" r="3.4"/><circle cx="365.9" cy="575.5" r="3.4"/><circle cx="276.1" cy="579.9" r="3.4"/><circle cx="302.9" cy="574.9" r="3.4"/><circle cx="357.8" cy="607.2" r="3.4"/><circle cx="306.2" cy="567.9" r="3.4"/><circle cx="471.9" cy="573.5" r="3.4"/><circle cx="337.9" cy="615.3" r="3.4"/><circle cx="391.7" cy="585.1" r="3.4"/><circle cx="393.7" cy="545.9" r="3.4"/><circle cx="342.4" cy="586.5" r="3.4"/><circle cx="358.4" cy="613.1" r="3.4"/><circle cx="321.1" cy="609.9" r="3.4"/><circle cx="328.5" cy="594.4" r="3.4"/><circle cx="329.6" cy="605.6" r="3.4"/><circle cx="442.5" cy="604.5" r="3.4"/><circle cx="392.5" cy="584.9" r="3.4"/><circle cx="394.9" cy="550.6" r="3.4"/><circle cx="234.3" cy="573.8" r="3.4"/><circle cx="393.0" cy="577.8" r="3.4"/><circle cx="404.7" cy="560.2" r="3.4"/><circle cx="334.7" cy="563.1" r="3.4"/><circle cx="255.1" cy="606.2" r="3.4"/><circle cx="281.7" cy="615.3" r="3.4"/><circle cx="362.0" cy="619.1" r="3.4"/><circle cx="355.6" cy="614.1" r="3.4"/><circle cx="383.8" cy="566.0" r="3.4"/><circle cx="387.7" cy="555.1" r="3.4"/><circle cx="343.1" cy="585.5" r="3.4"/><circle cx="327.0" cy="549.6" r="3.4"/><circle cx="378.6" cy="598.3" r="3.4"/><circle cx="448.3" cy="582.6" r="3.4"/><circle cx="449.0" cy="604.0" r="3.4"/><circle cx="439.9" cy="620.7" r="3.4"/><circle cx="457.4" cy="581.9" r="3.4"/><circle cx="403.5" cy="564.3" r="3.4"/><circle cx="436.1" cy="614.9" r="3.4"/><circle cx="269.8" cy="618.7" r="3.4"/><circle cx="320.7" cy="551.3" r="3.4"/><circle cx="427.0" cy="558.7" r="3.4"/><circle cx="371.7" cy="549.2" r="3.4"/><circle cx="344.4" cy="567.7" r="3.4"/><circle cx="254.6" cy="607.7" r="3.4"/><circle cx="456.9" cy="622.1" r="3.4"/><circle cx="434.7" cy="596.8" r="3.4"/><circle cx="458.0" cy="595.0" r="3.4"/><circle cx="479.1" cy="622.3" r="3.4"/><circle cx="345.9" cy="550.1" r="3.4"/><circle cx="464.9" cy="607.2" r="3.4"/><circle cx="334.4" cy="574.7" r="3.4"/><circle cx="333.9" cy="569.7" r="3.4"/><circle cx="329.9" cy="594.0" r="3.4"/><circle cx="389.0" cy="616.9" r="3.4"/><circle cx="366.8" cy="614.5" r="3.4"/><circle cx="340.2" cy="610.7" r="3.4"/><circle cx="279.7" cy="610.8" r="3.4"/><circle cx="366.7" cy="570.3" r="3.4"/><circle cx="363.6" cy="600.9" r="3.4"/><circle cx="344.2" cy="557.6" r="3.4"/><circle cx="376.7" cy="619.4" r="3.4"/><circle cx="434.8" cy="620.8" r="3.4"/><circle cx="312.2" cy="551.7" r="3.4"/><circle cx="416.2" cy="612.7" r="3.4"/><circle cx="320.7" cy="565.4" r="3.4"/><circle cx="398.4" cy="604.6" r="3.4"/><circle cx="464.8" cy="549.6" r="3.4"/><circle cx="246.2" cy="543.1" r="3.4"/><circle cx="283.9" cy="589.2" r="3.4"/><circle cx="314.5" cy="618.4" r="3.4"/><circle cx="389.3" cy="603.5" r="3.4"/><circle cx="420.7" cy="618.8" r="3.4"/><circle cx="309.2" cy="563.8" r="3.4"/><circle cx="384.7" cy="609.2" r="3.4"/><circle cx="290.4" cy="562.6" r="3.4"/><circle cx="307.8" cy="573.0" r="3.4"/><circle cx="333.7" cy="616.6" r="3.4"/><circle cx="346.0" cy="550.3" r="3.4"/><circle cx="356.4" cy="601.1" r="3.4"/><circle cx="359.0" cy="567.3" r="3.4"/><circle cx="443.7" cy="561.5" r="3.4"/><circle cx="333.3" cy="584.6" r="3.4"/><circle cx="442.9" cy="575.3" r="3.4"/><circle cx="353.3" cy="597.7" r="3.4"/><circle cx="348.7" cy="551.9" r="3.4"/><circle cx="414.7" cy="587.6" r="3.4"/><circle cx="465.5" cy="562.5" r="3.4"/><circle cx="407.8" cy="609.0" r="3.4"/><circle cx="397.7" cy="582.5" r="3.4"/><circle cx="299.6" cy="618.7" r="3.4"/><circle cx="383.4" cy="603.3" r="3.4"/><circle cx="334.7" cy="583.7" r="3.4"/><circle cx="265.9" cy="585.9" r="3.4"/><circle cx="446.4" cy="587.8" r="3.4"/><circle cx="455.8" cy="596.6" r="3.4"/><circle cx="353.6" cy="544.7" r="3.4"/><circle cx="434.9" cy="594.5" r="3.4"/><circle cx="414.5" cy="570.7" r="3.4"/><circle cx="389.5" cy="593.7" r="3.4"/><circle cx="368.6" cy="597.9" r="3.4"/><circle cx="427.7" cy="550.3" r="3.4"/><circle cx="279.3" cy="613.8" r="3.4"/><circle cx="458.9" cy="572.9" r="3.4"/><circle cx="233.3" cy="563.5" r="3.4"/><circle cx="285.1" cy="581.4" r="3.4"/><circle cx="296.2" cy="563.0" r="3.4"/><circle cx="312.1" cy="590.4" r="3.4"/><circle cx="353.7" cy="609.3" r="3.4"/><circle cx="293.8" cy="624.6" r="3.4"/><circle cx="336.5" cy="556.7" r="3.4"/><circle cx="255.5" cy="602.7" r="3.4"/><circle cx="339.6" cy="565.2" r="3.4"/><circle cx="401.8" cy="560.5" r="3.4"/><circle cx="301.2" cy="564.6" r="3.4"/><circle cx="430.1" cy="586.4" r="3.4"/><circle cx="250.2" cy="570.4" r="3.4"/><circle cx="255.2" cy="595.9" r="3.4"/><circle cx="343.6" cy="616.0" r="3.4"/><circle cx="422.0" cy="562.3" r="3.4"/><circle cx="315.7" cy="599.1" r="3.4"/><circle cx="252.6" cy="608.3" r="3.4"/><circle cx="392.0" cy="577.3" r="3.4"/><circle cx="363.0" cy="592.3" r="3.4"/><circle cx="355.9" cy="576.5" r="3.4"/><circle cx="431.2" cy="556.0" r="3.4"/><circle cx="334.1" cy="594.4" r="3.4"/><circle cx="445.3" cy="579.7" r="3.4"/><circle cx="418.4" cy="602.5" r="3.4"/><circle cx="352.0" cy="617.0" r="3.4"/><circle cx="308.9" cy="627.0" r="3.4"/><circle cx="373.8" cy="582.0" r="3.4"/><circle cx="369.8" cy="579.5" r="3.4"/><circle cx="441.8" cy="572.1" r="3.4"/><circle cx="238.7" cy="604.8" r="3.4"/><circle cx="458.0" cy="614.4" r="3.4"/><circle cx="443.3" cy="564.8" r="3.4"/><circle cx="388.5" cy="545.3" r="3.4"/><circle cx="369.8" cy="569.9" r="3.4"/><circle cx="429.9" cy="599.2" r="3.4"/><circle cx="393.6" cy="571.4" r="3.4"/><circle cx="367.7" cy="560.4" r="3.4"/><circle cx="421.6" cy="579.6" r="3.4"/><circle cx="372.1" cy="570.0" r="3.4"/><circle cx="412.2" cy="596.1" r="3.4"/><circle cx="366.1" cy="602.3" r="3.4"/><circle cx="422.6" cy="577.8" r="3.4"/><circle cx="414.9" cy="624.6" r="3.4"/><circle cx="319.8" cy="592.6" r="3.4"/><circle cx="355.8" cy="612.5" r="3.4"/><circle cx="323.5" cy="617.0" r="3.4"/><circle cx="377.3" cy="619.3" r="3.4"/><circle cx="418.3" cy="563.0" r="3.4"/><circle cx="447.0" cy="563.2" r="3.4"/><circle cx="327.0" cy="606.2" r="3.4"/><circle cx="398.9" cy="550.7" r="3.4"/><circle cx="302.6" cy="609.3" r="3.4"/><circle cx="442.4" cy="575.7" r="3.4"/><circle cx="447.6" cy="618.6" r="3.4"/><circle cx="375.4" cy="543.2" r="3.4"/><circle cx="315.8" cy="572.0" r="3.4"/><circle cx="235.5" cy="594.4" r="3.4"/><circle cx="247.0" cy="544.0" r="3.4"/><circle cx="416.3" cy="587.0" r="3.4"/><circle cx="310.5" cy="579.1" r="3.4"/><circle cx="285.8" cy="573.1" r="3.4"/><circle cx="367.4" cy="587.3" r="3.4"/><circle cx="352.7" cy="593.9" r="3.4"/><circle cx="408.3" cy="617.7" r="3.4"/><circle cx="327.3" cy="553.4" r="3.4"/><circle cx="263.1" cy="606.0" r="3.4"/><circle cx="365.0" cy="605.4" r="3.4"/><circle cx="390.3" cy="613.5" r="3.4"/><circle cx="259.2" cy="569.0" r="3.4"/><circle cx="380.3" cy="622.2" r="3.4"/><circle cx="435.0" cy="557.9" r="3.4"/><circle cx="389.6" cy="611.7" r="3.4"/><circle cx="424.8" cy="599.9" r="3.4"/><circle cx="476.5" cy="547.1" r="3.4"/><circle cx="285.0" cy="598.9" r="3.4"/><circle cx="301.1" cy="593.1" r="3.4"/><circle cx="454.6" cy="585.9" r="3.4"/><circle cx="261.6" cy="546.3" r="3.4"/><circle cx="260.4" cy="565.6" r="3.4"/><circle cx="268.5" cy="584.0" r="3.4"/><circle cx="363.0" cy="574.4" r="3.4"/><circle cx="372.5" cy="580.2" r="3.4"/><circle cx="445.3" cy="606.4" r="3.4"/><circle cx="311.0" cy="550.3" r="3.4"/><circle cx="290.7" cy="595.8" r="3.4"/><circle cx="280.9" cy="603.9" r="3.4"/><circle cx="329.2" cy="592.9" r="3.4"/><circle cx="428.7" cy="612.5" r="3.4"/><circle cx="323.8" cy="613.9" r="3.4"/><circle cx="477.1" cy="578.1" r="3.4"/><circle cx="376.4" cy="583.5" r="3.4"/><circle cx="339.0" cy="558.6" r="3.4"/><circle cx="385.6" cy="567.3" r="3.4"/><circle cx="338.8" cy="552.5" r="3.4"/><circle cx="430.5" cy="558.2" r="3.4"/><circle cx="287.8" cy="592.2" r="3.4"/><circle cx="340.2" cy="579.7" r="3.4"/><circle cx="385.9" cy="580.6" r="3.4"/><circle cx="267.6" cy="616.9" r="3.4"/><circle cx="316.1" cy="624.1" r="3.4"/><circle cx="248.3" cy="572.3" r="3.4"/><circle cx="270.4" cy="566.7" r="3.4"/><circle cx="350.2" cy="568.1" r="3.4"/><circle cx="353.9" cy="598.9" r="3.4"/><circle cx="360.5" cy="605.2" r="3.4"/><circle cx="452.8" cy="603.9" r="3.4"/><circle cx="288.9" cy="572.1" r="3.4"/><circle cx="344.6" cy="566.7" r="3.4"/><circle cx="464.8" cy="556.0" r="3.4"/><circle cx="363.7" cy="610.2" r="3.4"/><circle cx="335.2" cy="607.6" r="3.4"/><circle cx="308.3" cy="568.7" r="3.4"/><circle cx="361.5" cy="565.2" r="3.4"/><circle cx="395.8" cy="602.6" r="3.4"/><circle cx="270.1" cy="596.2" r="3.4"/><circle cx="273.9" cy="622.4" r="3.4"/><circle cx="300.7" cy="582.4" r="3.4"/><circle cx="436.2" cy="562.6" r="3.4"/><circle cx="461.3" cy="618.3" r="3.4"/><circle cx="339.6" cy="597.8" r="3.4"/><circle cx="317.2" cy="598.3" r="3.4"/><circle cx="239.2" cy="552.2" r="3.4"/><circle cx="357.2" cy="580.8" r="3.4"/><circle cx="405.3" cy="563.6" r="3.4"/><circle cx="274.2" cy="573.1" r="3.4"/><circle cx="416.4" cy="567.0" r="3.4"/><circle cx="297.5" cy="584.1" r="3.4"/><circle cx="383.5" cy="593.7" r="3.4"/><circle cx="407.1" cy="579.1" r="3.4"/><circle cx="326.8" cy="609.9" r="3.4"/><circle cx="330.6" cy="571.5" r="3.4"/><circle cx="267.3" cy="594.7" r="3.4"/><circle cx="446.8" cy="612.6" r="3.4"/><circle cx="385.3" cy="611.6" r="3.4"/><circle cx="317.5" cy="574.7" r="3.4"/><circle cx="266.4" cy="616.1" r="3.4"/><circle cx="391.9" cy="567.9" r="3.4"/><circle cx="270.9" cy="600.6" r="3.4"/><circle cx="321.2" cy="620.5" r="3.4"/><circle cx="393.4" cy="614.5" r="3.4"/><circle cx="301.1" cy="568.2" r="3.4"/><circle cx="340.0" cy="608.6" r="3.4"/><circle cx="319.4" cy="578.9" r="3.4"/><circle cx="249.3" cy="597.4" r="3.4"/><circle cx="351.5" cy="614.4" r="3.4"/><circle cx="310.0" cy="548.0" r="3.4"/><circle cx="311.4" cy="553.9" r="3.4"/><circle cx="339.6" cy="546.8" r="3.4"/><circle cx="365.5" cy="555.4" r="3.4"/><circle cx="327.9" cy="597.5" r="3.4"/><circle cx="439.9" cy="602.6" r="3.4"/><circle cx="295.9" cy="598.6" r="3.4"/><circle cx="357.8" cy="579.1" r="3.4"/><circle cx="281.9" cy="609.8" r="3.4"/><circle cx="370.8" cy="549.3" r="3.4"/><circle cx="427.7" cy="578.1" r="3.4"/><circle cx="397.6" cy="563.8" r="3.4"/><circle cx="369.3" cy="543.5" r="3.4"/><circle cx="419.0" cy="607.2" r="3.4"/><circle cx="422.9" cy="566.6" r="3.4"/><circle cx="381.6" cy="585.0" r="3.4"/><circle cx="337.9" cy="576.5" r="3.4"/><circle cx="362.5" cy="556.3" r="3.4"/><circle cx="313.3" cy="626.0" r="3.4"/><circle cx="312.4" cy="622.1" r="3.4"/><circle cx="424.6" cy="608.4" r="3.4"/><circle cx="341.0" cy="568.0" r="3.4"/><circle cx="365.0" cy="593.5" r="3.4"/><circle cx="306.3" cy="577.5" r="3.4"/><circle cx="435.1" cy="583.5" r="3.4"/><circle cx="348.9" cy="573.6" r="3.4"/><circle cx="392.3" cy="545.2" r="3.4"/><circle cx="468.1" cy="596.1" r="3.4"/><circle cx="240.4" cy="594.1" r="3.4"/><circle cx="425.3" cy="554.7" r="3.4"/><circle cx="398.5" cy="584.9" r="3.4"/><circle cx="440.3" cy="585.1" r="3.4"/><circle cx="393.2" cy="548.5" r="3.4"/><circle cx="381.1" cy="570.8" r="3.4"/><circle cx="293.2" cy="608.5" r="3.4"/><circle cx="431.2" cy="569.8" r="3.4"/><circle cx="286.9" cy="590.5" r="3.4"/><circle cx="323.1" cy="568.4" r="3.4"/><circle cx="449.6" cy="581.8" r="3.4"/><circle cx="300.0" cy="573.8" r="3.4"/><circle cx="441.0" cy="610.4" r="3.4"/><circle cx="268.6" cy="589.1" r="3.4"/><circle cx="301.1" cy="596.8" r="3.4"/><circle cx="411.3" cy="587.1" r="3.4"/><circle cx="337.0" cy="569.1" r="3.4"/><circle cx="314.4" cy="603.0" r="3.4"/><circle cx="413.5" cy="569.8" r="3.4"/><circle cx="433.4" cy="617.2" r="3.4"/><circle cx="344.9" cy="584.4" r="3.4"/><circle cx="241.4" cy="606.5" r="3.4"/><circle cx="361.9" cy="565.1" r="3.4"/><circle cx="372.4" cy="580.7" r="3.4"/><circle cx="426.1" cy="563.0" r="3.4"/><circle cx="359.6" cy="613.8" r="3.4"/><circle cx="401.5" cy="593.5" r="3.4"/><circle cx="281.0" cy="604.7" r="3.4"/><circle cx="367.0" cy="616.9" r="3.4"/><circle cx="448.9" cy="544.5" r="3.4"/><circle cx="366.4" cy="559.1" r="3.4"/><circle cx="392.9" cy="577.2" r="3.4"/><circle cx="348.1" cy="569.4" r="3.4"/><circle cx="330.9" cy="561.4" r="3.4"/><circle cx="412.5" cy="580.0" r="3.4"/><circle cx="466.6" cy="595.8" r="3.4"/><circle cx="336.2" cy="559.0" r="3.4"/><circle cx="383.6" cy="580.8" r="3.4"/><circle cx="348.6" cy="548.0" r="3.4"/><circle cx="379.4" cy="600.4" r="3.4"/><circle cx="435.6" cy="601.4" r="3.4"/><circle cx="224.1" cy="470.7" r="3.4"/><circle cx="203.2" cy="489.2" r="3.4"/><circle cx="214.0" cy="487.6" r="3.4"/><circle cx="203.8" cy="507.2" r="3.4"/><circle cx="226.1" cy="510.2" r="3.4"/><circle cx="231.4" cy="512.7" r="3.4"/><circle cx="226.7" cy="519.9" r="3.4"/><circle cx="212.0" cy="521.9" r="3.4"/><circle cx="211.8" cy="526.0" r="3.4"/><circle cx="187.9" cy="527.4" r="3.4"/><circle cx="198.9" cy="533.5" r="3.4"/><circle cx="202.6" cy="538.2" r="3.4"/><circle cx="177.7" cy="536.6" r="3.4"/><circle cx="184.2" cy="536.6" r="3.4"/><circle cx="216.5" cy="534.8" r="3.4"/><circle cx="223.2" cy="537.2" r="3.4"/><circle cx="139.9" cy="539.9" r="3.4"/><circle cx="149.0" cy="546.0" r="3.4"/><circle cx="146.6" cy="552.6" r="3.4"/><circle cx="199.1" cy="547.4" r="3.4"/><circle cx="231.8" cy="542.3" r="3.4"/><circle cx="184.8" cy="553.0" r="3.4"/><circle cx="192.4" cy="556.0" r="3.4"/><circle cx="221.6" cy="554.0" r="3.4"/><circle cx="224.1" cy="552.6" r="3.4"/><circle cx="204.6" cy="558.7" r="3.4"/><circle cx="170.5" cy="559.7" r="3.4"/><circle cx="164.4" cy="562.8" r="3.4"/><circle cx="177.7" cy="560.7" r="3.4"/><circle cx="192.4" cy="562.4" r="3.4"/><circle cx="213.4" cy="564.8" r="3.4"/><circle cx="215.1" cy="563.4" r="3.4"/><circle cx="231.8" cy="566.9" r="3.4"/><circle cx="210.6" cy="575.8" r="3.4"/><circle cx="189.9" cy="578.3" r="3.4"/><circle cx="183.8" cy="583.0" r="3.4"/><circle cx="194.4" cy="584.4" r="3.4"/><circle cx="200.1" cy="587.5" r="3.4"/><circle cx="206.3" cy="589.5" r="3.4"/><circle cx="208.3" cy="587.1" r="3.4"/><circle cx="214.4" cy="586.5" r="3.4"/><circle cx="158.9" cy="586.5" r="3.4"/><circle cx="170.7" cy="586.1" r="3.4"/><circle cx="187.9" cy="589.5" r="3.4"/><circle cx="161.3" cy="594.6" r="3.4"/><circle cx="165.0" cy="599.3" r="3.4"/><circle cx="187.3" cy="597.7" r="3.4"/><circle cx="211.4" cy="595.7" r="3.4"/><circle cx="212.4" cy="599.7" r="3.4"/><circle cx="217.5" cy="598.7" r="3.4"/><circle cx="221.6" cy="592.6" r="3.4"/><circle cx="225.7" cy="595.2" r="3.4"/><circle cx="228.8" cy="585.4" r="3.4"/><circle cx="196.1" cy="602.8" r="3.4"/><circle cx="201.2" cy="603.4" r="3.4"/><circle cx="205.3" cy="602.8" r="3.4"/><circle cx="208.3" cy="608.5" r="3.4"/><circle cx="163.8" cy="609.6" r="3.4"/><circle cx="203.2" cy="615.1" r="3.4"/><circle cx="209.3" cy="614.7" r="3.4"/><circle cx="218.5" cy="611.0" r="3.4"/><circle cx="222.6" cy="607.9" r="3.4"/><circle cx="220.6" cy="617.1" r="3.4"/><circle cx="187.5" cy="626.3" r="3.4"/><circle cx="212.0" cy="625.7" r="3.4"/><circle cx="217.5" cy="628.4" r="3.4"/><circle cx="224.7" cy="631.0" r="3.4"/><circle cx="212.4" cy="634.5" r="3.4"/><circle cx="167.9" cy="637.6" r="3.4"/><circle cx="169.1" cy="641.0" r="3.4"/><circle cx="157.2" cy="648.4" r="3.4"/><circle cx="168.5" cy="648.8" r="3.4"/><circle cx="219.6" cy="647.4" r="3.4"/><circle cx="222.6" cy="647.4" r="3.4"/><circle cx="230.8" cy="649.8" r="3.4"/><circle cx="200.1" cy="653.9" r="3.4"/><circle cx="206.3" cy="666.6" r="3.4"/><circle cx="229.2" cy="669.6" r="3.4"/><circle cx="170.1" cy="683.1" r="3.4"/><circle cx="526.4" cy="471.2" r="3.4"/><circle cx="512.8" cy="492.2" r="3.4"/><circle cx="493.0" cy="511.0" r="3.4"/><circle cx="499.9" cy="509.9" r="3.4"/><circle cx="493.8" cy="518.3" r="3.4"/><circle cx="517.9" cy="522.2" r="3.4"/><circle cx="527.1" cy="527.3" r="3.4"/><circle cx="492.0" cy="530.4" r="3.4"/><circle cx="491.3" cy="533.6" r="3.4"/><circle cx="523.0" cy="538.5" r="3.4"/><circle cx="528.1" cy="539.2" r="3.4"/><circle cx="532.8" cy="539.6" r="3.4"/><circle cx="542.9" cy="539.0" r="3.4"/><circle cx="556.7" cy="524.9" r="3.4"/><circle cx="565.9" cy="529.6" r="3.4"/><circle cx="571.7" cy="506.5" r="3.4"/><circle cx="586.0" cy="502.0" r="3.4"/><circle cx="609.9" cy="509.1" r="3.4"/><circle cx="607.2" cy="514.2" r="3.4"/><circle cx="581.7" cy="533.4" r="3.4"/><circle cx="591.9" cy="543.2" r="3.4"/><circle cx="602.7" cy="540.6" r="3.4"/><circle cx="484.6" cy="548.0" r="3.4"/><circle cx="523.4" cy="550.8" r="3.4"/><circle cx="541.4" cy="553.5" r="3.4"/><circle cx="550.2" cy="553.9" r="3.4"/><circle cx="545.1" cy="557.6" r="3.4"/><circle cx="547.6" cy="560.6" r="3.4"/><circle cx="552.7" cy="561.6" r="3.4"/><circle cx="536.9" cy="560.2" r="3.4"/><circle cx="551.0" cy="567.2" r="3.4"/><circle cx="561.9" cy="565.3" r="3.4"/><circle cx="564.9" cy="562.7" r="3.4"/><circle cx="586.0" cy="551.0" r="3.4"/><circle cx="576.6" cy="558.6" r="3.4"/><circle cx="592.5" cy="561.2" r="3.4"/><circle cx="584.3" cy="568.4" r="3.4"/><circle cx="603.8" cy="572.5" r="3.4"/><circle cx="481.1" cy="557.6" r="3.4"/><circle cx="485.2" cy="558.6" r="3.4"/><circle cx="499.1" cy="562.3" r="3.4"/><circle cx="486.9" cy="567.4" r="3.4"/><circle cx="493.4" cy="569.2" r="3.4"/><circle cx="491.3" cy="572.5" r="3.4"/><circle cx="501.2" cy="570.4" r="3.4"/><circle cx="512.2" cy="564.3" r="3.4"/><circle cx="516.9" cy="559.6" r="3.4"/><circle cx="530.2" cy="563.7" r="3.4"/><circle cx="525.7" cy="567.8" r="3.4"/><circle cx="524.0" cy="571.9" r="3.4"/><circle cx="509.7" cy="573.3" r="3.4"/><circle cx="489.3" cy="576.1" r="3.4"/><circle cx="497.5" cy="576.1" r="3.4"/><circle cx="509.7" cy="575.1" r="3.4"/><circle cx="512.8" cy="579.2" r="3.4"/><circle cx="524.0" cy="575.1" r="3.4"/><circle cx="540.0" cy="578.6" r="3.4"/><circle cx="552.3" cy="578.2" r="3.4"/><circle cx="552.3" cy="581.2" r="3.4"/><circle cx="564.3" cy="581.2" r="3.4"/><circle cx="578.8" cy="584.3" r="3.4"/><circle cx="573.5" cy="588.0" r="3.4"/><circle cx="590.5" cy="585.3" r="3.4"/><circle cx="595.6" cy="584.7" r="3.4"/><circle cx="600.1" cy="581.2" r="3.4"/><circle cx="605.2" cy="586.8" r="3.4"/><circle cx="490.3" cy="586.4" r="3.4"/><circle cx="493.8" cy="588.0" r="3.4"/><circle cx="505.7" cy="585.9" r="3.4"/><circle cx="508.7" cy="585.3" r="3.4"/><circle cx="506.7" cy="594.5" r="3.4"/><circle cx="510.8" cy="592.1" r="3.4"/><circle cx="515.9" cy="591.5" r="3.4"/><circle cx="526.1" cy="594.9" r="3.4"/><circle cx="529.8" cy="597.6" r="3.4"/><circle cx="532.2" cy="599.6" r="3.4"/><circle cx="548.6" cy="588.0" r="3.4"/><circle cx="550.6" cy="593.5" r="3.4"/><circle cx="551.6" cy="598.6" r="3.4"/><circle cx="547.6" cy="602.7" r="3.4"/><circle cx="558.8" cy="600.7" r="3.4"/><circle cx="565.9" cy="599.2" r="3.4"/><circle cx="481.1" cy="602.7" r="3.4"/><circle cx="485.2" cy="601.7" r="3.4"/><circle cx="483.2" cy="607.8" r="3.4"/><circle cx="491.3" cy="607.8" r="3.4"/><circle cx="487.3" cy="611.9" r="3.4"/><circle cx="490.3" cy="613.9" r="3.4"/><circle cx="488.3" cy="620.1" r="3.4"/><circle cx="496.5" cy="611.9" r="3.4"/><circle cx="499.5" cy="618.0" r="3.4"/><circle cx="503.6" cy="616.0" r="3.4"/><circle cx="521.0" cy="605.8" r="3.4"/><circle cx="517.9" cy="609.9" r="3.4"/><circle cx="512.8" cy="612.5" r="3.4"/><circle cx="524.0" cy="613.9" r="3.4"/><circle cx="539.0" cy="608.8" r="3.4"/><circle cx="545.5" cy="612.9" r="3.4"/><circle cx="570.0" cy="617.0" r="3.4"/><circle cx="579.8" cy="624.8" r="3.4"/><circle cx="553.7" cy="624.8" r="3.4"/><circle cx="559.2" cy="630.3" r="3.4"/><circle cx="543.1" cy="628.2" r="3.4"/><circle cx="542.4" cy="631.3" r="3.4"/><circle cx="533.7" cy="635.0" r="3.4"/><circle cx="514.4" cy="630.9" r="3.4"/><circle cx="491.3" cy="631.3" r="3.4"/><circle cx="490.3" cy="635.0" r="3.4"/><circle cx="491.8" cy="645.6" r="3.4"/><circle cx="495.4" cy="651.7" r="3.4"/><circle cx="514.9" cy="654.8" r="3.4"/><circle cx="482.2" cy="660.0" r="3.4"/><circle cx="570.0" cy="646.2" r="3.4"/><circle cx="578.6" cy="641.5" r="3.4"/><circle cx="589.4" cy="637.0" r="3.4"/><circle cx="593.5" cy="637.9" r="3.4"/><circle cx="607.8" cy="643.0" r="3.4"/><circle cx="482.6" cy="661.6" r="3.4"/><circle cx="523.6" cy="668.0" r="3.4"/><circle cx="511.8" cy="681.3" r="3.4"/><circle cx="483.2" cy="707.8" r="3.4"/><circle cx="569.6" cy="664.9" r="3.4"/><circle cx="575.6" cy="671.5" r="3.4"/><circle cx="617.7" cy="573.9" r="3.4"/><circle cx="631.2" cy="621.3" r="3.4"/><circle cx="248.0" cy="478.5" r="3.4"/><circle cx="237.9" cy="494.2" r="3.4"/><circle cx="239.4" cy="494.8" r="3.4"/><circle cx="281.1" cy="488.0" r="3.4"/><circle cx="286.8" cy="483.4" r="3.4"/><circle cx="316.8" cy="483.8" r="3.4"/><circle cx="323.8" cy="482.8" r="3.4"/><circle cx="338.1" cy="495.2" r="3.4"/><circle cx="342.4" cy="492.9" r="3.4"/><circle cx="318.2" cy="500.9" r="3.4"/><circle cx="321.9" cy="500.9" r="3.4"/><circle cx="266.3" cy="508.8" r="3.4"/><circle cx="276.6" cy="509.4" r="3.4"/><circle cx="285.9" cy="509.4" r="3.4"/><circle cx="310.6" cy="508.1" r="3.4"/><circle cx="321.9" cy="508.8" r="3.4"/><circle cx="317.2" cy="512.6" r="3.4"/><circle cx="316.8" cy="517.0" r="3.4"/><circle cx="330.9" cy="512.6" r="3.4"/><circle cx="330.1" cy="514.5" r="3.4"/><circle cx="341.5" cy="510.0" r="3.4"/><circle cx="351.0" cy="513.2" r="3.4"/><circle cx="338.1" cy="518.5" r="3.4"/><circle cx="348.5" cy="518.9" r="3.4"/><circle cx="234.6" cy="518.0" r="3.4"/><circle cx="252.7" cy="519.3" r="3.4"/><circle cx="251.7" cy="524.6" r="3.4"/><circle cx="265.6" cy="523.3" r="3.4"/><circle cx="288.4" cy="517.6" r="3.4"/><circle cx="294.4" cy="522.7" r="3.4"/><circle cx="322.9" cy="520.8" r="3.4"/><circle cx="301.1" cy="525.5" r="3.4"/><circle cx="303.9" cy="524.6" r="3.4"/><circle cx="304.9" cy="528.4" r="3.4"/><circle cx="303.0" cy="531.2" r="3.4"/><circle cx="302.0" cy="535.0" r="3.4"/><circle cx="303.0" cy="538.8" r="3.4"/><circle cx="324.8" cy="527.4" r="3.4"/><circle cx="236.5" cy="525.5" r="3.4"/><circle cx="238.4" cy="529.7" r="3.4"/><circle cx="256.1" cy="531.6" r="3.4"/><circle cx="273.5" cy="530.9" r="3.4"/><circle cx="270.1" cy="535.0" r="3.4"/><circle cx="276.4" cy="535.0" r="3.4"/><circle cx="280.2" cy="534.1" r="3.4"/><circle cx="279.2" cy="537.9" r="3.4"/><circle cx="280.2" cy="541.7" r="3.4"/><circle cx="263.1" cy="537.9" r="3.4"/><circle cx="261.2" cy="541.7" r="3.4"/><circle cx="251.7" cy="540.4" r="3.4"/><circle cx="240.9" cy="541.1" r="3.4"/><circle cx="232.2" cy="541.7" r="3.4"/><circle cx="292.1" cy="536.9" r="3.4"/><circle cx="309.6" cy="536.9" r="3.4"/><circle cx="314.4" cy="534.1" r="3.4"/><circle cx="319.1" cy="531.2" r="3.4"/><circle cx="315.3" cy="536.9" r="3.4"/><circle cx="307.7" cy="540.4" r="3.4"/><circle cx="328.6" cy="541.1" r="3.4"/><circle cx="347.6" cy="535.4" r="3.4"/><circle cx="344.2" cy="541.7" r="3.4"/><circle cx="354.8" cy="540.4" r="3.4"/><circle cx="357.1" cy="523.7" r="3.4"/><circle cx="356.1" cy="531.2" r="3.4"/><circle cx="432.7" cy="482.8" r="3.4"/><circle cx="427.0" cy="489.5" r="3.4"/><circle cx="476.3" cy="495.6" r="3.4"/><circle cx="403.6" cy="497.1" r="3.4"/><circle cx="406.7" cy="502.8" r="3.4"/><circle cx="369.5" cy="508.1" r="3.4"/><circle cx="378.0" cy="505.6" r="3.4"/><circle cx="390.0" cy="510.4" r="3.4"/><circle cx="426.0" cy="506.9" r="3.4"/><circle cx="370.0" cy="516.1" r="3.4"/><circle cx="397.0" cy="516.4" r="3.4"/><circle cx="399.1" cy="520.2" r="3.4"/><circle cx="436.5" cy="520.8" r="3.4"/><circle cx="445.0" cy="521.4" r="3.4"/><circle cx="477.3" cy="521.4" r="3.4"/><circle cx="377.6" cy="529.7" r="3.4"/><circle cx="388.1" cy="526.5" r="3.4"/><circle cx="386.2" cy="530.9" r="3.4"/><circle cx="391.9" cy="531.2" r="3.4"/><circle cx="395.7" cy="531.6" r="3.4"/><circle cx="402.9" cy="530.9" r="3.4"/><circle cx="410.8" cy="527.4" r="3.4"/><circle cx="415.2" cy="529.3" r="3.4"/><circle cx="422.2" cy="532.8" r="3.4"/><circle cx="452.2" cy="531.6" r="3.4"/><circle cx="454.5" cy="531.6" r="3.4"/><circle cx="469.7" cy="527.8" r="3.4"/><circle cx="463.0" cy="535.0" r="3.4"/><circle cx="438.4" cy="534.1" r="3.4"/><circle cx="441.2" cy="537.9" r="3.4"/><circle cx="370.0" cy="536.9" r="3.4"/><circle cx="371.0" cy="534.1" r="3.4"/><circle cx="374.8" cy="535.0" r="3.4"/><circle cx="380.5" cy="536.9" r="3.4"/><circle cx="384.3" cy="539.8" r="3.4"/><circle cx="387.1" cy="538.8" r="3.4"/><circle cx="378.6" cy="540.7" r="3.4"/><circle cx="400.4" cy="537.9" r="3.4"/><circle cx="408.9" cy="540.4" r="3.4"/><circle cx="416.5" cy="540.7" r="3.4"/><circle cx="362.4" cy="541.1" r="3.4"/><circle cx="463.0" cy="541.1" r="3.4"/><circle cx="477.3" cy="541.7" r="3.4"/><circle cx="392.8" cy="542.6" r="3.4"/><circle cx="397.5" cy="542.6" r="3.4"/><circle cx="403.2" cy="542.6" r="3.4"/><circle cx="441.2" cy="542.6" r="3.4"/><circle cx="455.4" cy="543.6" r="3.4"/><circle cx="239.4" cy="627.2" r="3.4"/><circle cx="249.3" cy="632.9" r="3.4"/><circle cx="255.5" cy="634.8" r="3.4"/><circle cx="256.5" cy="629.1" r="3.4"/><circle cx="261.2" cy="628.5" r="3.4"/><circle cx="266.0" cy="627.2" r="3.4"/><circle cx="274.5" cy="629.9" r="3.4"/><circle cx="290.6" cy="634.8" r="3.4"/><circle cx="289.7" cy="636.7" r="3.4"/><circle cx="300.1" cy="635.2" r="3.4"/><circle cx="302.0" cy="639.0" r="3.4"/><circle cx="307.7" cy="639.0" r="3.4"/><circle cx="311.5" cy="641.3" r="3.4"/><circle cx="305.4" cy="630.4" r="3.4"/><circle cx="324.8" cy="640.9" r="3.4"/><circle cx="323.8" cy="637.1" r="3.4"/><circle cx="331.4" cy="633.3" r="3.4"/><circle cx="338.1" cy="635.2" r="3.4"/><circle cx="340.0" cy="630.4" r="3.4"/><circle cx="345.7" cy="632.3" r="3.4"/><circle cx="349.5" cy="636.1" r="3.4"/><circle cx="352.3" cy="634.2" r="3.4"/><circle cx="349.5" cy="628.5" r="3.4"/><circle cx="334.7" cy="643.7" r="3.4"/><circle cx="344.2" cy="644.3" r="3.4"/><circle cx="353.3" cy="647.5" r="3.4"/><circle cx="357.1" cy="646.6" r="3.4"/><circle cx="237.1" cy="644.3" r="3.4"/><circle cx="244.1" cy="647.5" r="3.4"/><circle cx="249.8" cy="646.6" r="3.4"/><circle cx="279.2" cy="643.2" r="3.4"/><circle cx="266.9" cy="655.5" r="3.4"/><circle cx="292.0" cy="653.2" r="3.4"/><circle cx="333.9" cy="651.3" r="3.4"/><circle cx="333.9" cy="659.9" r="3.4"/><circle cx="334.3" cy="667.4" r="3.4"/><circle cx="316.3" cy="669.3" r="3.4"/><circle cx="346.0" cy="669.0" r="3.4"/><circle cx="252.3" cy="671.6" r="3.4"/><circle cx="263.7" cy="672.2" r="3.4"/><circle cx="238.4" cy="684.1" r="3.4"/><circle cx="251.7" cy="695.0" r="3.4"/><circle cx="304.9" cy="687.9" r="3.4"/><circle cx="323.8" cy="687.4" r="3.4"/><circle cx="329.0" cy="687.4" r="3.4"/><circle cx="360.5" cy="628.5" r="3.4"/><circle cx="365.3" cy="627.6" r="3.4"/><circle cx="362.4" cy="634.2" r="3.4"/><circle cx="368.1" cy="633.3" r="3.4"/><circle cx="371.0" cy="638.0" r="3.4"/><circle cx="373.8" cy="641.8" r="3.4"/><circle cx="370.0" cy="646.6" r="3.4"/><circle cx="366.2" cy="642.8" r="3.4"/><circle cx="361.5" cy="639.0" r="3.4"/><circle cx="358.6" cy="642.8" r="3.4"/><circle cx="376.7" cy="627.6" r="3.4"/><circle cx="374.8" cy="632.3" r="3.4"/><circle cx="380.5" cy="639.4" r="3.4"/><circle cx="383.3" cy="646.6" r="3.4"/><circle cx="389.0" cy="645.6" r="3.4"/><circle cx="389.0" cy="648.5" r="3.4"/><circle cx="392.8" cy="629.5" r="3.4"/><circle cx="398.5" cy="631.4" r="3.4"/><circle cx="403.2" cy="629.5" r="3.4"/><circle cx="401.0" cy="641.3" r="3.4"/><circle cx="408.0" cy="638.0" r="3.4"/><circle cx="411.2" cy="635.2" r="3.4"/><circle cx="394.1" cy="654.7" r="3.4"/><circle cx="364.3" cy="658.9" r="3.4"/><circle cx="376.7" cy="659.9" r="3.4"/><circle cx="379.5" cy="658.3" r="3.4"/><circle cx="409.9" cy="652.3" r="3.4"/><circle cx="412.4" cy="658.3" r="3.4"/><circle cx="406.1" cy="669.7" r="3.4"/><circle cx="405.5" cy="675.0" r="3.4"/><circle cx="423.2" cy="651.3" r="3.4"/><circle cx="427.5" cy="644.1" r="3.4"/><circle cx="428.9" cy="636.7" r="3.4"/><circle cx="433.6" cy="639.0" r="3.4"/><circle cx="439.3" cy="639.0" r="3.4"/><circle cx="430.8" cy="651.3" r="3.4"/><circle cx="437.0" cy="648.5" r="3.4"/><circle cx="439.3" cy="655.7" r="3.4"/><circle cx="439.7" cy="632.3" r="3.4"/><circle cx="446.5" cy="640.5" r="3.4"/><circle cx="454.9" cy="635.8" r="3.4"/><circle cx="461.1" cy="628.5" r="3.4"/><circle cx="464.4" cy="645.6" r="3.4"/><circle cx="470.0" cy="639.9" r="3.4"/><circle cx="471.6" cy="648.1" r="3.4"/><circle cx="460.6" cy="657.0" r="3.4"/><circle cx="450.3" cy="662.7" r="3.4"/><circle cx="437.4" cy="670.3" r="3.4"/><circle cx="419.9" cy="684.1" r="3.4"/><circle cx="427.0" cy="685.5" r="3.4"/><circle cx="470.0" cy="689.3" r="3.4"/></g>
<g clip-path="url(#clipB)"><ellipse cx="369.80" cy="583.45" rx="245.20" ry="97.10" transform="rotate(0.504 369.80 583.45)" fill="none" stroke="#007800" stroke-width="2.3"/></g>
<line x1="87.1" y1="488.5" x2="181.7" y2="441.3" stroke="#111" stroke-width="2.1" stroke-dasharray="5.4 3.8"/>
<text transform="translate(99,473.6) rotate(-26.2)" font-size="17" font-weight="bold" fill="#111" font-family="Liberation Sans, sans-serif">WTP=4275</text>
<text x="376.7" y="783" text-anchor="middle" font-size="12.3" font-weight="bold" fill="#111" font-family="Liberation Sans, sans-serif" textLength="196" lengthAdjust="spacingAndGlyphs">Incremental Effectiveness (QALY)</text>
<text transform="translate(12.3,606.5) rotate(-90)" text-anchor="middle" font-size="11.6" font-weight="bold" fill="#111" font-family="Liberation Sans, sans-serif" textLength="111.3" lengthAdjust="spacingAndGlyphs">Incremental Cost ($)</text>
<text transform="translate(1.5,448) scale(0.952,1.056)" font-size="46.5" fill="#000" font-family="Liberation Sans, sans-serif">B</text>
<line x1="108.6" y1="875.5" x2="108.6" y2="1177.8" stroke="#e3e3e3" stroke-width="1"/>
<line x1="154.0" y1="875.5" x2="154.0" y2="1177.8" stroke="#e3e3e3" stroke-width="1"/>
<line x1="199.4" y1="875.5" x2="199.4" y2="1177.8" stroke="#e3e3e3" stroke-width="1"/>
<line x1="244.7" y1="875.5" x2="244.7" y2="1177.8" stroke="#e3e3e3" stroke-width="1"/>
<line x1="290.1" y1="875.5" x2="290.1" y2="1177.8" stroke="#e3e3e3" stroke-width="1"/>
<line x1="335.5" y1="875.5" x2="335.5" y2="1177.8" stroke="#e3e3e3" stroke-width="1"/>
<line x1="380.9" y1="875.5" x2="380.9" y2="1177.8" stroke="#e3e3e3" stroke-width="1"/>
<line x1="426.3" y1="875.5" x2="426.3" y2="1177.8" stroke="#e3e3e3" stroke-width="1"/>
<line x1="471.6" y1="875.5" x2="471.6" y2="1177.8" stroke="#e3e3e3" stroke-width="1"/>
<line x1="517.0" y1="875.5" x2="517.0" y2="1177.8" stroke="#e3e3e3" stroke-width="1"/>
<line x1="562.4" y1="875.5" x2="562.4" y2="1177.8" stroke="#e3e3e3" stroke-width="1"/>
<line x1="607.8" y1="875.5" x2="607.8" y2="1177.8" stroke="#e3e3e3" stroke-width="1"/>
<line x1="653.2" y1="875.5" x2="653.2" y2="1177.8" stroke="#e3e3e3" stroke-width="1"/>
<line x1="94.8" y1="889.9" x2="667" y2="889.9" stroke="#e3e3e3" stroke-width="1"/>
<line x1="94.8" y1="914.8" x2="667" y2="914.8" stroke="#e3e3e3" stroke-width="1"/>
<line x1="94.8" y1="939.6" x2="667" y2="939.6" stroke="#e3e3e3" stroke-width="1"/>
<line x1="94.8" y1="964.5" x2="667" y2="964.5" stroke="#e3e3e3" stroke-width="1"/>
<line x1="94.8" y1="989.3" x2="667" y2="989.3" stroke="#e3e3e3" stroke-width="1"/>
<line x1="94.8" y1="1014.2" x2="667" y2="1014.2" stroke="#e3e3e3" stroke-width="1"/>
<line x1="94.8" y1="1039.0" x2="667" y2="1039.0" stroke="#e3e3e3" stroke-width="1"/>
<line x1="94.8" y1="1063.9" x2="667" y2="1063.9" stroke="#e3e3e3" stroke-width="1"/>
<line x1="94.8" y1="1088.8" x2="667" y2="1088.8" stroke="#e3e3e3" stroke-width="1"/>
<line x1="94.8" y1="1113.6" x2="667" y2="1113.6" stroke="#e3e3e3" stroke-width="1"/>
<line x1="94.8" y1="1138.5" x2="667" y2="1138.5" stroke="#e3e3e3" stroke-width="1"/>
<line x1="94.8" y1="1163.3" x2="667" y2="1163.3" stroke="#e3e3e3" stroke-width="1"/>
<line x1="94.8" y1="889.3" x2="94.8" y2="1163.9" stroke="#222" stroke-width="1.3"/>
<line x1="86.8" y1="889.9" x2="94.8" y2="889.9" stroke="#222" stroke-width="1.3"/>
<text x="82.4" y="893.8" text-anchor="end" font-size="11.2" fill="#333" font-family="Liberation Sans, sans-serif">100.00</text>
<line x1="86.8" y1="914.8" x2="94.8" y2="914.8" stroke="#222" stroke-width="1.3"/>
<text x="82.4" y="918.7" text-anchor="end" font-size="11.2" fill="#333" font-family="Liberation Sans, sans-serif">0.00</text>
<line x1="86.8" y1="939.6" x2="94.8" y2="939.6" stroke="#222" stroke-width="1.3"/>
<text x="82.4" y="943.5" text-anchor="end" font-size="11.2" fill="#333" font-family="Liberation Sans, sans-serif">−100.00</text>
<line x1="86.8" y1="964.5" x2="94.8" y2="964.5" stroke="#222" stroke-width="1.3"/>
<text x="82.4" y="968.4" text-anchor="end" font-size="11.2" fill="#333" font-family="Liberation Sans, sans-serif">−200.00</text>
<line x1="86.8" y1="989.3" x2="94.8" y2="989.3" stroke="#222" stroke-width="1.3"/>
<text x="82.4" y="993.2" text-anchor="end" font-size="11.2" fill="#333" font-family="Liberation Sans, sans-serif">−300.00</text>
<line x1="86.8" y1="1014.2" x2="94.8" y2="1014.2" stroke="#222" stroke-width="1.3"/>
<text x="82.4" y="1018.1" text-anchor="end" font-size="11.2" fill="#333" font-family="Liberation Sans, sans-serif">−400.00</text>
<line x1="86.8" y1="1039.0" x2="94.8" y2="1039.0" stroke="#222" stroke-width="1.3"/>
<text x="82.4" y="1043.0" text-anchor="end" font-size="11.2" fill="#333" font-family="Liberation Sans, sans-serif">−500.00</text>
<line x1="86.8" y1="1063.9" x2="94.8" y2="1063.9" stroke="#222" stroke-width="1.3"/>
<text x="82.4" y="1067.8" text-anchor="end" font-size="11.2" fill="#333" font-family="Liberation Sans, sans-serif">−600.00</text>
<line x1="86.8" y1="1088.8" x2="94.8" y2="1088.8" stroke="#222" stroke-width="1.3"/>
<text x="82.4" y="1092.7" text-anchor="end" font-size="11.2" fill="#333" font-family="Liberation Sans, sans-serif">−700.00</text>
<line x1="86.8" y1="1113.6" x2="94.8" y2="1113.6" stroke="#222" stroke-width="1.3"/>
<text x="82.4" y="1117.5" text-anchor="end" font-size="11.2" fill="#333" font-family="Liberation Sans, sans-serif">−800.00</text>
<line x1="86.8" y1="1138.5" x2="94.8" y2="1138.5" stroke="#222" stroke-width="1.3"/>
<text x="82.4" y="1142.4" text-anchor="end" font-size="11.2" fill="#333" font-family="Liberation Sans, sans-serif">−900.00</text>
<line x1="86.8" y1="1163.3" x2="94.8" y2="1163.3" stroke="#222" stroke-width="1.3"/>
<text x="82.4" y="1167.2" text-anchor="end" font-size="11.2" fill="#333" font-family="Liberation Sans, sans-serif">−1000.00</text>
<line x1="108.0" y1="1177.8" x2="653.8" y2="1177.8" stroke="#222" stroke-width="1.3"/>
<line x1="108.6" y1="1177.8" x2="108.6" y2="1183.8" stroke="#222" stroke-width="1.3"/>
<text x="108.6" y="1195.3" text-anchor="middle" font-size="11.2" fill="#333" font-family="Liberation Sans, sans-serif">0.00</text>
<line x1="154.0" y1="1177.8" x2="154.0" y2="1183.8" stroke="#222" stroke-width="1.3"/>
<text x="154.0" y="1195.3" text-anchor="middle" font-size="11.2" fill="#333" font-family="Liberation Sans, sans-serif">0.01</text>
<line x1="199.4" y1="1177.8" x2="199.4" y2="1183.8" stroke="#222" stroke-width="1.3"/>
<text x="199.4" y="1195.3" text-anchor="middle" font-size="11.2" fill="#333" font-family="Liberation Sans, sans-serif">0.02</text>
<line x1="244.7" y1="1177.8" x2="244.7" y2="1183.8" stroke="#222" stroke-width="1.3"/>
<text x="244.7" y="1195.3" text-anchor="middle" font-size="11.2" fill="#333" font-family="Liberation Sans, sans-serif">0.03</text>
<line x1="290.1" y1="1177.8" x2="290.1" y2="1183.8" stroke="#222" stroke-width="1.3"/>
<text x="290.1" y="1195.3" text-anchor="middle" font-size="11.2" fill="#333" font-family="Liberation Sans, sans-serif">0.04</text>
<line x1="335.5" y1="1177.8" x2="335.5" y2="1183.8" stroke="#222" stroke-width="1.3"/>
<text x="335.5" y="1195.3" text-anchor="middle" font-size="11.2" fill="#333" font-family="Liberation Sans, sans-serif">0.05</text>
<line x1="380.9" y1="1177.8" x2="380.9" y2="1183.8" stroke="#222" stroke-width="1.3"/>
<text x="380.9" y="1195.3" text-anchor="middle" font-size="11.2" fill="#333" font-family="Liberation Sans, sans-serif">0.06</text>
<line x1="426.3" y1="1177.8" x2="426.3" y2="1183.8" stroke="#222" stroke-width="1.3"/>
<text x="426.3" y="1195.3" text-anchor="middle" font-size="11.2" fill="#333" font-family="Liberation Sans, sans-serif">0.07</text>
<line x1="471.6" y1="1177.8" x2="471.6" y2="1183.8" stroke="#222" stroke-width="1.3"/>
<text x="471.6" y="1195.3" text-anchor="middle" font-size="11.2" fill="#333" font-family="Liberation Sans, sans-serif">0.08</text>
<line x1="517.0" y1="1177.8" x2="517.0" y2="1183.8" stroke="#222" stroke-width="1.3"/>
<text x="517.0" y="1195.3" text-anchor="middle" font-size="11.2" fill="#333" font-family="Liberation Sans, sans-serif">0.09</text>
<line x1="562.4" y1="1177.8" x2="562.4" y2="1183.8" stroke="#222" stroke-width="1.3"/>
<text x="562.4" y="1195.3" text-anchor="middle" font-size="11.2" fill="#333" font-family="Liberation Sans, sans-serif">0.10</text>
<line x1="607.8" y1="1177.8" x2="607.8" y2="1183.8" stroke="#222" stroke-width="1.3"/>
<text x="607.8" y="1195.3" text-anchor="middle" font-size="11.2" fill="#333" font-family="Liberation Sans, sans-serif">0.11</text>
<line x1="653.2" y1="1177.8" x2="653.2" y2="1183.8" stroke="#222" stroke-width="1.3"/>
<text x="653.2" y="1195.3" text-anchor="middle" font-size="11.2" fill="#333" font-family="Liberation Sans, sans-serif">0.12</text>
<line x1="108.6" y1="882.3" x2="108.6" y2="1170" stroke="#333" stroke-width="1.1" stroke-dasharray="4.5 9"/>
<line x1="100.5" y1="914.8" x2="661" y2="914.8" stroke="#333" stroke-width="1.3" stroke-dasharray="5 8.43"/>
<g fill="#32cd32"><circle cx="259.7" cy="993.4" r="3.4"/><circle cx="223.3" cy="1018.3" r="3.4"/><circle cx="210.4" cy="995.3" r="3.4"/><circle cx="222.8" cy="1024.9" r="3.4"/><circle cx="239.4" cy="985.2" r="3.4"/><circle cx="253.2" cy="1040.8" r="3.4"/><circle cx="258.4" cy="1024.7" r="3.4"/><circle cx="311.9" cy="1052.2" r="3.4"/><circle cx="302.3" cy="1021.7" r="3.4"/><circle cx="235.5" cy="965.2" r="3.4"/><circle cx="199.2" cy="985.2" r="3.4"/><circle cx="323.5" cy="1062.1" r="3.4"/><circle cx="149.8" cy="1043.9" r="3.4"/><circle cx="165.9" cy="1051.5" r="3.4"/><circle cx="266.8" cy="980.1" r="3.4"/><circle cx="296.5" cy="1003.8" r="3.4"/><circle cx="239.7" cy="967.7" r="3.4"/><circle cx="161.6" cy="1050.6" r="3.4"/><circle cx="250.6" cy="1008.4" r="3.4"/><circle cx="199.6" cy="1003.7" r="3.4"/><circle cx="272.3" cy="999.1" r="3.4"/><circle cx="202.5" cy="1002.8" r="3.4"/><circle cx="200.0" cy="972.2" r="3.4"/><circle cx="260.5" cy="977.4" r="3.4"/><circle cx="194.5" cy="1008.2" r="3.4"/><circle cx="218.0" cy="981.6" r="3.4"/><circle cx="195.7" cy="996.5" r="3.4"/><circle cx="274.6" cy="1034.3" r="3.4"/><circle cx="320.5" cy="974.8" r="3.4"/><circle cx="199.6" cy="1000.4" r="3.4"/><circle cx="304.0" cy="985.5" r="3.4"/><circle cx="212.3" cy="955.9" r="3.4"/><circle cx="206.7" cy="1033.2" r="3.4"/><circle cx="216.5" cy="1005.5" r="3.4"/><circle cx="285.1" cy="979.3" r="3.4"/><circle cx="259.5" cy="1022.5" r="3.4"/><circle cx="163.7" cy="971.0" r="3.4"/><circle cx="170.2" cy="971.7" r="3.4"/><circle cx="214.4" cy="995.2" r="3.4"/><circle cx="263.8" cy="1034.1" r="3.4"/><circle cx="240.5" cy="977.7" r="3.4"/><circle cx="230.9" cy="1036.5" r="3.4"/><circle cx="227.7" cy="1043.8" r="3.4"/><circle cx="299.5" cy="972.7" r="3.4"/><circle cx="269.8" cy="975.9" r="3.4"/><circle cx="252.3" cy="1052.0" r="3.4"/><circle cx="311.8" cy="977.6" r="3.4"/><circle cx="250.3" cy="1066.7" r="3.4"/><circle cx="303.5" cy="1032.9" r="3.4"/><circle cx="145.1" cy="1037.3" r="3.4"/><circle cx="232.3" cy="1029.5" r="3.4"/><circle cx="209.7" cy="974.8" r="3.4"/><circle cx="146.2" cy="1053.6" r="3.4"/><circle cx="254.9" cy="999.9" r="3.4"/><circle cx="303.7" cy="1021.6" r="3.4"/><circle cx="185.0" cy="1057.8" r="3.4"/><circle cx="171.6" cy="1032.9" r="3.4"/><circle cx="212.8" cy="1032.1" r="3.4"/><circle cx="341.5" cy="994.5" r="3.4"/><circle cx="255.0" cy="960.0" r="3.4"/><circle cx="161.3" cy="1008.4" r="3.4"/><circle cx="258.2" cy="976.9" r="3.4"/><circle cx="176.0" cy="992.9" r="3.4"/><circle cx="305.2" cy="1035.3" r="3.4"/><circle cx="179.1" cy="976.7" r="3.4"/><circle cx="173.6" cy="1037.9" r="3.4"/><circle cx="198.5" cy="1004.4" r="3.4"/><circle cx="168.9" cy="956.2" r="3.4"/><circle cx="221.7" cy="989.3" r="3.4"/><circle cx="172.9" cy="968.8" r="3.4"/><circle cx="202.7" cy="1009.4" r="3.4"/><circle cx="300.8" cy="1065.9" r="3.4"/><circle cx="286.6" cy="1038.9" r="3.4"/><circle cx="312.4" cy="982.8" r="3.4"/><circle cx="216.3" cy="966.7" r="3.4"/><circle cx="188.4" cy="1017.6" r="3.4"/><circle cx="252.8" cy="964.7" r="3.4"/><circle cx="149.0" cy="1033.5" r="3.4"/><circle cx="192.3" cy="1057.4" r="3.4"/><circle cx="212.8" cy="969.3" r="3.4"/><circle cx="276.7" cy="994.2" r="3.4"/><circle cx="256.9" cy="971.6" r="3.4"/><circle cx="258.4" cy="1054.7" r="3.4"/><circle cx="206.6" cy="1032.9" r="3.4"/><circle cx="218.1" cy="987.2" r="3.4"/><circle cx="306.1" cy="1019.7" r="3.4"/><circle cx="181.4" cy="1033.6" r="3.4"/><circle cx="248.3" cy="1000.7" r="3.4"/><circle cx="182.6" cy="1049.7" r="3.4"/><circle cx="240.5" cy="1025.7" r="3.4"/><circle cx="267.5" cy="962.4" r="3.4"/><circle cx="233.4" cy="965.6" r="3.4"/><circle cx="249.3" cy="1012.0" r="3.4"/><circle cx="211.6" cy="1051.9" r="3.4"/><circle cx="142.7" cy="1004.5" r="3.4"/><circle cx="279.1" cy="1007.6" r="3.4"/><circle cx="254.6" cy="1004.9" r="3.4"/><circle cx="286.4" cy="1003.1" r="3.4"/><circle cx="217.9" cy="969.8" r="3.4"/><circle cx="274.6" cy="996.6" r="3.4"/><circle cx="270.9" cy="987.9" r="3.4"/><circle cx="185.0" cy="1054.1" r="3.4"/><circle cx="262.7" cy="1023.9" r="3.4"/><circle cx="289.0" cy="992.5" r="3.4"/><circle cx="254.7" cy="977.1" r="3.4"/><circle cx="223.8" cy="952.5" r="3.4"/><circle cx="263.8" cy="982.4" r="3.4"/><circle cx="218.0" cy="975.0" r="3.4"/><circle cx="247.8" cy="974.5" r="3.4"/><circle cx="227.7" cy="1057.2" r="3.4"/><circle cx="212.6" cy="1050.6" r="3.4"/><circle cx="185.2" cy="981.3" r="3.4"/><circle cx="151.1" cy="982.6" r="3.4"/><circle cx="187.5" cy="979.7" r="3.4"/><circle cx="173.1" cy="1032.8" r="3.4"/><circle cx="231.2" cy="1031.2" r="3.4"/><circle cx="265.5" cy="1023.9" r="3.4"/><circle cx="194.2" cy="1024.2" r="3.4"/><circle cx="216.0" cy="1065.1" r="3.4"/><circle cx="253.1" cy="984.0" r="3.4"/><circle cx="314.2" cy="1021.0" r="3.4"/><circle cx="313.0" cy="1007.5" r="3.4"/><circle cx="256.1" cy="1031.6" r="3.4"/><circle cx="330.6" cy="1022.0" r="3.4"/><circle cx="223.5" cy="979.7" r="3.4"/><circle cx="212.0" cy="993.3" r="3.4"/><circle cx="176.5" cy="975.1" r="3.4"/><circle cx="197.5" cy="1024.5" r="3.4"/><circle cx="222.1" cy="987.0" r="3.4"/><circle cx="308.3" cy="1028.0" r="3.4"/><circle cx="217.8" cy="964.6" r="3.4"/><circle cx="317.5" cy="990.5" r="3.4"/><circle cx="179.2" cy="1034.0" r="3.4"/><circle cx="238.6" cy="950.1" r="3.4"/><circle cx="269.1" cy="956.0" r="3.4"/><circle cx="209.6" cy="1013.1" r="3.4"/><circle cx="233.1" cy="1064.0" r="3.4"/><circle cx="266.9" cy="1057.1" r="3.4"/><circle cx="230.1" cy="1035.9" r="3.4"/><circle cx="308.0" cy="987.6" r="3.4"/><circle cx="248.7" cy="987.5" r="3.4"/><circle cx="148.1" cy="965.5" r="3.4"/><circle cx="209.4" cy="1019.0" r="3.4"/><circle cx="254.1" cy="1024.1" r="3.4"/><circle cx="203.4" cy="987.3" r="3.4"/><circle cx="206.8" cy="981.5" r="3.4"/><circle cx="244.8" cy="997.3" r="3.4"/><circle cx="220.0" cy="1028.0" r="3.4"/><circle cx="257.4" cy="995.2" r="3.4"/><circle cx="192.9" cy="988.0" r="3.4"/><circle cx="233.2" cy="1026.8" r="3.4"/><circle cx="264.3" cy="960.3" r="3.4"/><circle cx="291.3" cy="951.0" r="3.4"/><circle cx="228.9" cy="968.1" r="3.4"/><circle cx="296.4" cy="1002.8" r="3.4"/><circle cx="260.8" cy="966.3" r="3.4"/><circle cx="225.5" cy="981.5" r="3.4"/><circle cx="170.6" cy="1013.8" r="3.4"/><circle cx="154.6" cy="1020.2" r="3.4"/><circle cx="275.9" cy="1006.3" r="3.4"/><circle cx="263.9" cy="1024.3" r="3.4"/><circle cx="233.0" cy="1040.8" r="3.4"/><circle cx="234.6" cy="968.8" r="3.4"/><circle cx="170.4" cy="961.4" r="3.4"/><circle cx="258.4" cy="968.9" r="3.4"/><circle cx="291.1" cy="1037.9" r="3.4"/><circle cx="259.9" cy="1009.0" r="3.4"/><circle cx="255.0" cy="1020.7" r="3.4"/><circle cx="295.3" cy="992.2" r="3.4"/><circle cx="248.2" cy="1013.8" r="3.4"/><circle cx="287.6" cy="987.3" r="3.4"/><circle cx="196.2" cy="1039.9" r="3.4"/><circle cx="164.0" cy="1033.3" r="3.4"/><circle cx="150.6" cy="1034.4" r="3.4"/><circle cx="341.1" cy="1023.5" r="3.4"/><circle cx="239.0" cy="1057.7" r="3.4"/><circle cx="212.0" cy="1032.8" r="3.4"/><circle cx="307.4" cy="1033.4" r="3.4"/><circle cx="241.0" cy="1000.0" r="3.4"/><circle cx="231.6" cy="1013.1" r="3.4"/><circle cx="203.5" cy="1066.3" r="3.4"/><circle cx="142.7" cy="977.3" r="3.4"/><circle cx="218.9" cy="1048.7" r="3.4"/><circle cx="238.8" cy="980.0" r="3.4"/><circle cx="247.2" cy="1022.8" r="3.4"/><circle cx="310.4" cy="1056.2" r="3.4"/><circle cx="211.2" cy="955.5" r="3.4"/><circle cx="250.1" cy="984.7" r="3.4"/><circle cx="337.6" cy="976.2" r="3.4"/><circle cx="318.1" cy="1003.2" r="3.4"/><circle cx="252.1" cy="1054.0" r="3.4"/><circle cx="258.0" cy="993.2" r="3.4"/><circle cx="336.3" cy="1032.9" r="3.4"/><circle cx="205.4" cy="992.6" r="3.4"/><circle cx="217.7" cy="1029.8" r="3.4"/><circle cx="263.6" cy="1058.5" r="3.4"/><circle cx="241.8" cy="1044.2" r="3.4"/><circle cx="334.1" cy="1030.2" r="3.4"/><circle cx="178.2" cy="1052.6" r="3.4"/><circle cx="167.2" cy="1031.1" r="3.4"/><circle cx="306.1" cy="1032.5" r="3.4"/><circle cx="209.0" cy="964.1" r="3.4"/><circle cx="199.4" cy="1056.7" r="3.4"/><circle cx="166.0" cy="1029.1" r="3.4"/><circle cx="144.4" cy="987.1" r="3.4"/><circle cx="163.3" cy="967.0" r="3.4"/><circle cx="255.2" cy="1065.5" r="3.4"/><circle cx="245.4" cy="986.6" r="3.4"/><circle cx="297.1" cy="1013.5" r="3.4"/><circle cx="269.2" cy="1018.6" r="3.4"/><circle cx="219.5" cy="1007.9" r="3.4"/><circle cx="230.1" cy="1041.1" r="3.4"/><circle cx="257.3" cy="960.1" r="3.4"/><circle cx="235.5" cy="1035.5" r="3.4"/><circle cx="218.6" cy="1022.8" r="3.4"/><circle cx="208.9" cy="1028.4" r="3.4"/><circle cx="182.2" cy="1057.5" r="3.4"/><circle cx="264.4" cy="1055.3" r="3.4"/><circle cx="231.7" cy="1001.0" r="3.4"/><circle cx="152.3" cy="1058.9" r="3.4"/><circle cx="279.4" cy="1047.0" r="3.4"/><circle cx="176.1" cy="1041.2" r="3.4"/><circle cx="270.7" cy="976.8" r="3.4"/><circle cx="259.5" cy="1020.9" r="3.4"/><circle cx="212.3" cy="1048.3" r="3.4"/><circle cx="297.1" cy="1046.4" r="3.4"/><circle cx="280.7" cy="976.3" r="3.4"/><circle cx="246.6" cy="991.4" r="3.4"/><circle cx="159.7" cy="1011.4" r="3.4"/><circle cx="253.4" cy="981.0" r="3.4"/><circle cx="226.2" cy="1029.5" r="3.4"/><circle cx="258.6" cy="1019.3" r="3.4"/><circle cx="247.9" cy="966.8" r="3.4"/><circle cx="147.4" cy="1016.5" r="3.4"/><circle cx="273.4" cy="1001.8" r="3.4"/><circle cx="261.0" cy="1061.5" r="3.4"/><circle cx="197.3" cy="995.3" r="3.4"/><circle cx="190.0" cy="1028.9" r="3.4"/><circle cx="207.3" cy="990.5" r="3.4"/><circle cx="294.6" cy="981.4" r="3.4"/><circle cx="204.4" cy="1017.8" r="3.4"/><circle cx="189.6" cy="1023.1" r="3.4"/><circle cx="211.9" cy="1019.3" r="3.4"/><circle cx="267.5" cy="1025.1" r="3.4"/><circle cx="158.3" cy="1019.4" r="3.4"/><circle cx="199.4" cy="1053.9" r="3.4"/><circle cx="253.7" cy="954.5" r="3.4"/><circle cx="314.0" cy="952.4" r="3.4"/><circle cx="225.6" cy="1067.6" r="3.4"/><circle cx="270.5" cy="1034.6" r="3.4"/><circle cx="236.0" cy="987.3" r="3.4"/><circle cx="230.1" cy="1034.6" r="3.4"/><circle cx="319.8" cy="1041.4" r="3.4"/><circle cx="203.8" cy="1007.1" r="3.4"/><circle cx="214.6" cy="1016.0" r="3.4"/><circle cx="190.4" cy="1025.9" r="3.4"/><circle cx="248.1" cy="1011.9" r="3.4"/><circle cx="211.2" cy="967.1" r="3.4"/><circle cx="209.0" cy="1039.2" r="3.4"/><circle cx="183.0" cy="1036.0" r="3.4"/><circle cx="307.3" cy="1020.8" r="3.4"/><circle cx="181.0" cy="1051.2" r="3.4"/><circle cx="302.1" cy="1035.8" r="3.4"/><circle cx="221.1" cy="1036.8" r="3.4"/><circle cx="259.8" cy="1054.9" r="3.4"/><circle cx="275.6" cy="1002.5" r="3.4"/><circle cx="252.8" cy="1011.9" r="3.4"/><circle cx="229.5" cy="960.5" r="3.4"/><circle cx="149.8" cy="1004.7" r="3.4"/><circle cx="184.3" cy="992.6" r="3.4"/><circle cx="209.7" cy="1017.5" r="3.4"/><circle cx="252.4" cy="1037.0" r="3.4"/><circle cx="204.4" cy="967.1" r="3.4"/><circle cx="282.9" cy="999.0" r="3.4"/><circle cx="271.6" cy="951.3" r="3.4"/><circle cx="228.8" cy="1029.1" r="3.4"/><circle cx="244.8" cy="1019.4" r="3.4"/><circle cx="258.5" cy="993.7" r="3.4"/><circle cx="229.9" cy="1022.6" r="3.4"/><circle cx="219.9" cy="1043.6" r="3.4"/><circle cx="216.9" cy="988.9" r="3.4"/><circle cx="159.7" cy="1011.5" r="3.4"/><circle cx="300.0" cy="996.5" r="3.4"/><circle cx="258.5" cy="1028.5" r="3.4"/><circle cx="304.9" cy="1018.5" r="3.4"/><circle cx="308.8" cy="1002.0" r="3.4"/><circle cx="265.9" cy="1038.5" r="3.4"/><circle cx="273.3" cy="1014.1" r="3.4"/><circle cx="225.0" cy="1009.4" r="3.4"/><circle cx="239.8" cy="985.3" r="3.4"/><circle cx="233.3" cy="1049.3" r="3.4"/><circle cx="212.3" cy="1013.3" r="3.4"/><circle cx="273.7" cy="985.0" r="3.4"/><circle cx="202.9" cy="950.7" r="3.4"/><circle cx="220.6" cy="1012.8" r="3.4"/><circle cx="250.0" cy="1034.2" r="3.4"/><circle cx="143.2" cy="987.1" r="3.4"/><circle cx="306.1" cy="1036.5" r="3.4"/><circle cx="239.0" cy="964.9" r="3.4"/><circle cx="238.2" cy="1067.9" r="3.4"/><circle cx="140.4" cy="1003.1" r="3.4"/><circle cx="225.8" cy="983.0" r="3.4"/><circle cx="194.7" cy="1027.7" r="3.4"/><circle cx="221.3" cy="1001.7" r="3.4"/><circle cx="141.0" cy="996.2" r="3.4"/><circle cx="291.5" cy="1033.9" r="3.4"/><circle cx="195.6" cy="1047.0" r="3.4"/><circle cx="158.8" cy="1037.3" r="3.4"/><circle cx="172.7" cy="1023.0" r="3.4"/><circle cx="222.2" cy="1013.6" r="3.4"/><circle cx="234.1" cy="1004.6" r="3.4"/><circle cx="327.6" cy="1024.0" r="3.4"/><circle cx="182.6" cy="1011.3" r="3.4"/><circle cx="235.0" cy="953.5" r="3.4"/><circle cx="217.7" cy="996.4" r="3.4"/><circle cx="330.2" cy="1039.2" r="3.4"/><circle cx="199.1" cy="1039.5" r="3.4"/><circle cx="218.1" cy="1006.7" r="3.4"/><circle cx="192.3" cy="1009.1" r="3.4"/><circle cx="159.4" cy="1022.0" r="3.4"/><circle cx="166.9" cy="1019.9" r="3.4"/><circle cx="151.3" cy="998.0" r="3.4"/><circle cx="228.3" cy="1018.2" r="3.4"/><circle cx="163.9" cy="1005.1" r="3.4"/><circle cx="198.6" cy="1005.2" r="3.4"/><circle cx="294.7" cy="1051.6" r="3.4"/><circle cx="330.8" cy="1057.7" r="3.4"/><circle cx="245.5" cy="1004.4" r="3.4"/><circle cx="171.0" cy="972.8" r="3.4"/><circle cx="194.9" cy="1034.8" r="3.4"/><circle cx="197.7" cy="1048.6" r="3.4"/><circle cx="294.1" cy="1057.1" r="3.4"/><circle cx="296.9" cy="977.9" r="3.4"/><circle cx="153.8" cy="1033.6" r="3.4"/><circle cx="258.2" cy="1033.5" r="3.4"/><circle cx="280.7" cy="980.2" r="3.4"/><circle cx="331.5" cy="1005.2" r="3.4"/><circle cx="229.6" cy="1053.0" r="3.4"/><circle cx="215.2" cy="965.8" r="3.4"/><circle cx="192.2" cy="1024.9" r="3.4"/><circle cx="315.1" cy="1002.8" r="3.4"/><circle cx="186.0" cy="1032.0" r="3.4"/><circle cx="239.8" cy="952.6" r="3.4"/><circle cx="282.2" cy="993.5" r="3.4"/><circle cx="200.5" cy="1038.6" r="3.4"/><circle cx="180.1" cy="963.2" r="3.4"/><circle cx="311.3" cy="1046.1" r="3.4"/><circle cx="275.3" cy="960.4" r="3.4"/><circle cx="217.3" cy="999.3" r="3.4"/><circle cx="267.8" cy="1026.5" r="3.4"/><circle cx="204.4" cy="993.4" r="3.4"/><circle cx="287.7" cy="958.8" r="3.4"/><circle cx="176.3" cy="1007.7" r="3.4"/><circle cx="251.5" cy="1066.9" r="3.4"/><circle cx="253.1" cy="971.9" r="3.4"/><circle cx="236.4" cy="978.1" r="3.4"/><circle cx="214.7" cy="976.1" r="3.4"/><circle cx="187.8" cy="1040.0" r="3.4"/><circle cx="272.9" cy="1020.6" r="3.4"/><circle cx="166.9" cy="1029.0" r="3.4"/><circle cx="289.9" cy="1014.6" r="3.4"/><circle cx="225.3" cy="1035.7" r="3.4"/><circle cx="145.3" cy="1055.4" r="3.4"/><circle cx="282.4" cy="1044.7" r="3.4"/><circle cx="164.6" cy="993.3" r="3.4"/><circle cx="273.3" cy="1058.5" r="3.4"/><circle cx="262.9" cy="1056.3" r="3.4"/><circle cx="192.6" cy="1004.3" r="3.4"/><circle cx="327.5" cy="1015.3" r="3.4"/><circle cx="249.3" cy="1016.6" r="3.4"/><circle cx="286.0" cy="991.7" r="3.4"/><circle cx="220.0" cy="957.1" r="3.4"/><circle cx="205.8" cy="1002.7" r="3.4"/><circle cx="223.7" cy="1024.2" r="3.4"/><circle cx="186.9" cy="981.9" r="3.4"/><circle cx="293.5" cy="993.8" r="3.4"/><circle cx="206.7" cy="958.3" r="3.4"/><circle cx="258.4" cy="1017.6" r="3.4"/><circle cx="308.7" cy="1005.1" r="3.4"/><circle cx="264.3" cy="1018.6" r="3.4"/><circle cx="154.6" cy="1066.2" r="3.4"/><circle cx="240.8" cy="998.6" r="3.4"/><circle cx="239.6" cy="1042.0" r="3.4"/><circle cx="226.7" cy="1022.1" r="3.4"/><circle cx="282.2" cy="1006.4" r="3.4"/><circle cx="277.8" cy="1049.9" r="3.4"/><circle cx="184.6" cy="1018.4" r="3.4"/><circle cx="234.1" cy="973.8" r="3.4"/><circle cx="284.8" cy="1015.9" r="3.4"/><circle cx="173.6" cy="1034.1" r="3.4"/><circle cx="237.7" cy="1016.9" r="3.4"/><circle cx="232.2" cy="994.0" r="3.4"/><circle cx="318.8" cy="955.0" r="3.4"/><circle cx="146.0" cy="1002.7" r="3.4"/><circle cx="181.2" cy="1030.5" r="3.4"/><circle cx="276.9" cy="970.2" r="3.4"/><circle cx="246.6" cy="1035.1" r="3.4"/><circle cx="178.6" cy="1051.5" r="3.4"/><circle cx="178.8" cy="1052.0" r="3.4"/><circle cx="221.5" cy="1027.3" r="3.4"/><circle cx="290.5" cy="972.7" r="3.4"/><circle cx="248.5" cy="1022.2" r="3.4"/><circle cx="216.6" cy="1015.6" r="3.4"/><circle cx="202.7" cy="985.6" r="3.4"/><circle cx="246.5" cy="990.1" r="3.4"/><circle cx="227.6" cy="1020.0" r="3.4"/><circle cx="271.1" cy="1046.9" r="3.4"/><circle cx="161.0" cy="977.6" r="3.4"/><circle cx="292.8" cy="992.2" r="3.4"/><circle cx="273.5" cy="1013.8" r="3.4"/><circle cx="181.9" cy="1028.0" r="3.4"/><circle cx="215.9" cy="1046.2" r="3.4"/><circle cx="197.4" cy="1023.4" r="3.4"/><circle cx="240.6" cy="1027.5" r="3.4"/><circle cx="180.4" cy="993.7" r="3.4"/><circle cx="272.4" cy="1008.9" r="3.4"/><circle cx="190.9" cy="1032.5" r="3.4"/><circle cx="231.1" cy="973.2" r="3.4"/><circle cx="254.3" cy="987.3" r="3.4"/><circle cx="276.5" cy="992.1" r="3.4"/><circle cx="283.2" cy="1013.8" r="3.4"/><circle cx="314.3" cy="987.1" r="3.4"/><circle cx="227.4" cy="956.1" r="3.4"/><circle cx="282.7" cy="996.1" r="3.4"/><circle cx="272.9" cy="1005.4" r="3.4"/><circle cx="146.7" cy="979.7" r="3.4"/><circle cx="163.5" cy="1053.4" r="3.4"/><circle cx="250.8" cy="1029.9" r="3.4"/><circle cx="235.3" cy="1032.0" r="3.4"/><circle cx="213.2" cy="1012.0" r="3.4"/><circle cx="256.0" cy="1035.3" r="3.4"/><circle cx="214.9" cy="978.4" r="3.4"/><circle cx="209.3" cy="1039.4" r="3.4"/><circle cx="203.5" cy="994.5" r="3.4"/><circle cx="223.7" cy="1010.5" r="3.4"/><circle cx="251.3" cy="1015.3" r="3.4"/><circle cx="337.9" cy="1008.3" r="3.4"/><circle cx="282.3" cy="1017.1" r="3.4"/><circle cx="283.4" cy="1050.8" r="3.4"/><circle cx="288.2" cy="956.5" r="3.4"/><circle cx="252.8" cy="992.0" r="3.4"/><circle cx="269.9" cy="1030.6" r="3.4"/><circle cx="178.7" cy="1006.3" r="3.4"/><circle cx="253.3" cy="1012.4" r="3.4"/><circle cx="180.0" cy="958.5" r="3.4"/><circle cx="182.2" cy="1046.3" r="3.4"/><circle cx="315.3" cy="989.7" r="3.4"/><circle cx="283.6" cy="1017.7" r="3.4"/><circle cx="313.3" cy="993.3" r="3.4"/><circle cx="217.3" cy="995.4" r="3.4"/><circle cx="169.3" cy="964.8" r="3.4"/><circle cx="263.9" cy="1023.4" r="3.4"/><circle cx="220.8" cy="1017.9" r="3.4"/><circle cx="230.5" cy="1008.4" r="3.4"/><circle cx="157.7" cy="979.8" r="3.4"/><circle cx="291.8" cy="1009.8" r="3.4"/><circle cx="184.2" cy="996.2" r="3.4"/><circle cx="280.9" cy="962.8" r="3.4"/><circle cx="232.5" cy="988.7" r="3.4"/><circle cx="222.8" cy="1058.8" r="3.4"/><circle cx="175.3" cy="1032.4" r="3.4"/><circle cx="336.4" cy="1001.7" r="3.4"/><circle cx="248.3" cy="975.9" r="3.4"/><circle cx="298.3" cy="1001.4" r="3.4"/><circle cx="301.4" cy="991.4" r="3.4"/><circle cx="256.8" cy="1003.2" r="3.4"/><circle cx="272.6" cy="991.4" r="3.4"/><circle cx="196.4" cy="1013.6" r="3.4"/><circle cx="244.1" cy="993.5" r="3.4"/><circle cx="218.3" cy="1046.0" r="3.4"/><circle cx="297.3" cy="1012.6" r="3.4"/><circle cx="244.7" cy="974.8" r="3.4"/><circle cx="185.4" cy="972.2" r="3.4"/><circle cx="181.9" cy="1040.5" r="3.4"/><circle cx="256.1" cy="971.1" r="3.4"/><circle cx="301.6" cy="977.4" r="3.4"/><circle cx="218.0" cy="998.9" r="3.4"/><circle cx="199.7" cy="992.8" r="3.4"/><circle cx="167.3" cy="1019.4" r="3.4"/><circle cx="225.2" cy="973.1" r="3.4"/><circle cx="193.6" cy="1006.2" r="3.4"/><circle cx="284.9" cy="1031.4" r="3.4"/><circle cx="246.0" cy="1048.8" r="3.4"/><circle cx="212.4" cy="1032.5" r="3.4"/><circle cx="218.5" cy="1024.3" r="3.4"/><circle cx="296.5" cy="952.6" r="3.4"/><circle cx="306.3" cy="1014.4" r="3.4"/><circle cx="285.9" cy="1014.7" r="3.4"/><circle cx="240.3" cy="1034.5" r="3.4"/><circle cx="273.5" cy="1050.4" r="3.4"/><circle cx="200.9" cy="1011.7" r="3.4"/><circle cx="150.4" cy="1036.4" r="3.4"/><circle cx="310.7" cy="980.4" r="3.4"/><circle cx="182.7" cy="1033.7" r="3.4"/><circle cx="240.5" cy="1020.1" r="3.4"/><circle cx="251.4" cy="983.8" r="3.4"/><circle cx="232.8" cy="1016.6" r="3.4"/><circle cx="262.2" cy="965.4" r="3.4"/><circle cx="283.0" cy="1036.8" r="3.4"/><circle cx="257.5" cy="990.1" r="3.4"/><circle cx="284.4" cy="992.1" r="3.4"/><circle cx="304.4" cy="1040.4" r="3.4"/><circle cx="243.8" cy="1035.7" r="3.4"/><circle cx="316.8" cy="1018.6" r="3.4"/><circle cx="248.8" cy="1057.6" r="3.4"/><circle cx="217.0" cy="1038.7" r="3.4"/><circle cx="277.0" cy="1055.6" r="3.4"/><circle cx="199.0" cy="1023.8" r="3.4"/><circle cx="178.4" cy="1035.3" r="3.4"/><circle cx="196.9" cy="1029.9" r="3.4"/><circle cx="221.3" cy="976.7" r="3.4"/><circle cx="274.1" cy="1024.0" r="3.4"/><circle cx="304.7" cy="1027.5" r="3.4"/><circle cx="318.3" cy="1006.7" r="3.4"/><circle cx="328.6" cy="1042.5" r="3.4"/><circle cx="296.1" cy="973.2" r="3.4"/><circle cx="226.9" cy="1004.2" r="3.4"/><circle cx="328.8" cy="1051.5" r="3.4"/><circle cx="258.9" cy="1043.9" r="3.4"/><circle cx="290.5" cy="998.3" r="3.4"/><circle cx="219.6" cy="1039.8" r="3.4"/><circle cx="278.8" cy="1001.3" r="3.4"/><circle cx="176.1" cy="967.9" r="3.4"/><circle cx="271.9" cy="1055.8" r="3.4"/><circle cx="184.5" cy="1013.4" r="3.4"/><circle cx="315.0" cy="1005.2" r="3.4"/><circle cx="320.2" cy="1007.5" r="3.4"/><circle cx="158.4" cy="957.0" r="3.4"/><circle cx="263.1" cy="1037.0" r="3.4"/><circle cx="180.0" cy="1042.7" r="3.4"/><circle cx="258.5" cy="973.7" r="3.4"/><circle cx="160.7" cy="1002.7" r="3.4"/><circle cx="170.1" cy="1052.7" r="3.4"/><circle cx="149.0" cy="1055.5" r="3.4"/><circle cx="222.1" cy="1012.1" r="3.4"/><circle cx="215.3" cy="1045.3" r="3.4"/><circle cx="254.9" cy="1050.3" r="3.4"/><circle cx="209.2" cy="1036.7" r="3.4"/><circle cx="179.1" cy="978.7" r="3.4"/><circle cx="312.9" cy="1054.9" r="3.4"/><circle cx="268.8" cy="977.3" r="3.4"/><circle cx="237.5" cy="963.1" r="3.4"/><circle cx="335.0" cy="1059.4" r="3.4"/><circle cx="333.3" cy="966.9" r="3.4"/><circle cx="240.6" cy="1000.3" r="3.4"/><circle cx="235.8" cy="954.2" r="3.4"/><circle cx="219.7" cy="1030.3" r="3.4"/><circle cx="267.1" cy="1007.8" r="3.4"/><circle cx="220.7" cy="1026.8" r="3.4"/><circle cx="208.5" cy="981.5" r="3.4"/><circle cx="246.9" cy="957.7" r="3.4"/><circle cx="254.1" cy="1048.9" r="3.4"/><circle cx="206.9" cy="1021.9" r="3.4"/><circle cx="179.4" cy="1027.3" r="3.4"/><circle cx="193.8" cy="966.7" r="3.4"/><circle cx="246.0" cy="1002.6" r="3.4"/><circle cx="241.6" cy="994.6" r="3.4"/><circle cx="239.3" cy="1000.4" r="3.4"/><circle cx="162.7" cy="994.4" r="3.4"/><circle cx="228.2" cy="994.5" r="3.4"/><circle cx="267.2" cy="1053.9" r="3.4"/><circle cx="225.6" cy="997.3" r="3.4"/><circle cx="307.3" cy="1001.7" r="3.4"/><circle cx="315.4" cy="982.2" r="3.4"/><circle cx="214.4" cy="976.2" r="3.4"/><circle cx="264.9" cy="979.0" r="3.4"/><circle cx="244.7" cy="997.9" r="3.4"/><circle cx="330.0" cy="984.4" r="3.4"/><circle cx="173.3" cy="1049.1" r="3.4"/><circle cx="238.1" cy="1035.5" r="3.4"/><circle cx="313.4" cy="997.4" r="3.4"/><circle cx="191.2" cy="979.9" r="3.4"/><circle cx="219.9" cy="1019.4" r="3.4"/><circle cx="210.8" cy="958.9" r="3.4"/><circle cx="185.2" cy="964.1" r="3.4"/><circle cx="228.8" cy="978.5" r="3.4"/><circle cx="227.8" cy="1025.9" r="3.4"/><circle cx="227.2" cy="997.2" r="3.4"/><circle cx="258.1" cy="1006.4" r="3.4"/><circle cx="160.1" cy="1019.4" r="3.4"/><circle cx="311.3" cy="1017.0" r="3.4"/><circle cx="255.6" cy="956.4" r="3.4"/><circle cx="155.5" cy="1017.8" r="3.4"/><circle cx="246.0" cy="1049.5" r="3.4"/><circle cx="176.3" cy="1062.4" r="3.4"/><circle cx="329.9" cy="1039.1" r="3.4"/><circle cx="165.6" cy="1044.7" r="3.4"/><circle cx="310.5" cy="1036.2" r="3.4"/><circle cx="280.2" cy="1034.1" r="3.4"/><circle cx="252.6" cy="963.6" r="3.4"/><circle cx="187.0" cy="976.9" r="3.4"/><circle cx="261.0" cy="1046.6" r="3.4"/><circle cx="152.3" cy="1031.6" r="3.4"/><circle cx="201.5" cy="981.9" r="3.4"/><circle cx="336.9" cy="1060.3" r="3.4"/><circle cx="180.1" cy="975.0" r="3.4"/><circle cx="188.1" cy="986.7" r="3.4"/><circle cx="331.1" cy="981.5" r="3.4"/><circle cx="216.6" cy="1002.4" r="3.4"/><circle cx="156.9" cy="983.7" r="3.4"/><circle cx="159.1" cy="1008.1" r="3.4"/><circle cx="280.4" cy="1039.0" r="3.4"/><circle cx="215.4" cy="1029.3" r="3.4"/><circle cx="201.6" cy="963.3" r="3.4"/><circle cx="175.8" cy="1042.1" r="3.4"/><circle cx="182.7" cy="1016.6" r="3.4"/><circle cx="214.4" cy="1027.1" r="3.4"/><circle cx="224.5" cy="986.1" r="3.4"/><circle cx="243.4" cy="1015.2" r="3.4"/><circle cx="203.4" cy="1031.1" r="3.4"/><circle cx="278.2" cy="1030.9" r="3.4"/><circle cx="255.2" cy="1060.9" r="3.4"/><circle cx="193.5" cy="1039.5" r="3.4"/><circle cx="144.7" cy="1018.2" r="3.4"/><circle cx="293.7" cy="1054.6" r="3.4"/><circle cx="227.3" cy="1000.3" r="3.4"/><circle cx="182.8" cy="984.9" r="3.4"/><circle cx="250.8" cy="1012.8" r="3.4"/><circle cx="210.5" cy="1008.8" r="3.4"/><circle cx="212.8" cy="1054.5" r="3.4"/><circle cx="316.7" cy="1025.3" r="3.4"/><circle cx="248.2" cy="994.7" r="3.4"/><circle cx="253.5" cy="1002.8" r="3.4"/><circle cx="300.0" cy="1022.3" r="3.4"/><circle cx="286.4" cy="1028.2" r="3.4"/><circle cx="341.2" cy="1055.8" r="3.4"/><circle cx="177.7" cy="1018.5" r="3.4"/><circle cx="227.3" cy="1026.4" r="3.4"/><circle cx="211.5" cy="1038.4" r="3.4"/><circle cx="216.7" cy="1021.9" r="3.4"/><circle cx="270.2" cy="1058.1" r="3.4"/><circle cx="296.0" cy="1024.0" r="3.4"/><circle cx="271.6" cy="987.6" r="3.4"/><circle cx="253.4" cy="990.6" r="3.4"/><circle cx="177.4" cy="1044.0" r="3.4"/><circle cx="261.6" cy="997.3" r="3.4"/><circle cx="199.8" cy="1021.9" r="3.4"/><circle cx="266.3" cy="953.4" r="3.4"/><circle cx="169.7" cy="1000.9" r="3.4"/><circle cx="205.2" cy="986.2" r="3.4"/><circle cx="189.5" cy="1020.1" r="3.4"/><circle cx="158.4" cy="980.0" r="3.4"/><circle cx="214.0" cy="1039.1" r="3.4"/><circle cx="214.5" cy="968.0" r="3.4"/><circle cx="217.9" cy="997.8" r="3.4"/><circle cx="151.2" cy="1049.8" r="3.4"/><circle cx="220.6" cy="1048.5" r="3.4"/><circle cx="284.0" cy="1056.2" r="3.4"/><circle cx="214.2" cy="970.0" r="3.4"/><circle cx="284.7" cy="974.0" r="3.4"/><circle cx="317.3" cy="1040.6" r="3.4"/><circle cx="177.2" cy="953.9" r="3.4"/><circle cx="190.3" cy="959.5" r="3.4"/><circle cx="254.3" cy="1046.3" r="3.4"/><circle cx="166.4" cy="1037.9" r="3.4"/><circle cx="239.4" cy="966.7" r="3.4"/><circle cx="308.5" cy="968.9" r="3.4"/><circle cx="156.7" cy="1040.0" r="3.4"/><circle cx="234.5" cy="983.8" r="3.4"/><circle cx="319.3" cy="1019.4" r="3.4"/><circle cx="207.7" cy="1036.4" r="3.4"/><circle cx="142.5" cy="999.4" r="3.4"/><circle cx="142.2" cy="1018.2" r="3.4"/><circle cx="226.4" cy="1055.4" r="3.4"/><circle cx="185.4" cy="977.6" r="3.4"/><circle cx="242.6" cy="989.6" r="3.4"/><circle cx="254.4" cy="1027.7" r="3.4"/><circle cx="264.7" cy="974.9" r="3.4"/><circle cx="265.7" cy="1030.2" r="3.4"/><circle cx="244.8" cy="1034.8" r="3.4"/><circle cx="282.2" cy="972.6" r="3.4"/><circle cx="285.3" cy="1061.7" r="3.4"/><circle cx="294.7" cy="1000.8" r="3.4"/><circle cx="151.4" cy="1023.8" r="3.4"/><circle cx="309.6" cy="1000.0" r="3.4"/><circle cx="253.2" cy="1019.7" r="3.4"/><circle cx="336.3" cy="1043.9" r="3.4"/><circle cx="194.2" cy="1018.1" r="3.4"/><circle cx="282.6" cy="1057.0" r="3.4"/><circle cx="281.0" cy="1025.2" r="3.4"/><circle cx="212.1" cy="1014.4" r="3.4"/><circle cx="209.1" cy="998.9" r="3.4"/><circle cx="239.1" cy="1008.7" r="3.4"/><circle cx="160.7" cy="1014.7" r="3.4"/><circle cx="232.1" cy="1016.9" r="3.4"/><circle cx="324.3" cy="1032.5" r="3.4"/><circle cx="196.5" cy="968.5" r="3.4"/><circle cx="321.3" cy="1013.9" r="3.4"/><circle cx="197.8" cy="978.2" r="3.4"/><circle cx="223.9" cy="1008.1" r="3.4"/><circle cx="200.9" cy="1032.0" r="3.4"/><circle cx="313.4" cy="1002.3" r="3.4"/><circle cx="248.3" cy="977.4" r="3.4"/><circle cx="249.0" cy="952.1" r="3.4"/><circle cx="333.2" cy="1034.0" r="3.4"/><circle cx="326.3" cy="981.2" r="3.4"/><circle cx="195.8" cy="1053.0" r="3.4"/><circle cx="228.0" cy="966.2" r="3.4"/><circle cx="283.8" cy="970.4" r="3.4"/><circle cx="286.2" cy="992.0" r="3.4"/><circle cx="219.4" cy="979.1" r="3.4"/><circle cx="288.7" cy="1039.0" r="3.4"/><circle cx="192.8" cy="1024.0" r="3.4"/><circle cx="202.8" cy="995.3" r="3.4"/><circle cx="326.4" cy="1017.7" r="3.4"/><circle cx="189.3" cy="974.6" r="3.4"/><circle cx="313.1" cy="1033.9" r="3.4"/><circle cx="217.6" cy="1051.4" r="3.4"/><circle cx="260.6" cy="973.5" r="3.4"/><circle cx="201.7" cy="1035.0" r="3.4"/><circle cx="188.4" cy="961.8" r="3.4"/><circle cx="213.4" cy="1037.0" r="3.4"/><circle cx="247.1" cy="957.8" r="3.4"/><circle cx="289.4" cy="1034.1" r="3.4"/><circle cx="331.4" cy="1038.6" r="3.4"/><circle cx="207.2" cy="1006.1" r="3.4"/><circle cx="210.0" cy="953.2" r="3.4"/><circle cx="204.6" cy="1007.8" r="3.4"/><circle cx="239.5" cy="1001.2" r="3.4"/><circle cx="142.6" cy="1025.3" r="3.4"/><circle cx="308.4" cy="1003.1" r="3.4"/><circle cx="239.9" cy="989.7" r="3.4"/><circle cx="214.4" cy="969.0" r="3.4"/><circle cx="275.9" cy="996.0" r="3.4"/><circle cx="159.9" cy="974.5" r="3.4"/><circle cx="295.5" cy="973.4" r="3.4"/><circle cx="216.5" cy="1005.8" r="3.4"/><circle cx="226.3" cy="1006.9" r="3.4"/><circle cx="309.6" cy="1026.4" r="3.4"/><circle cx="170.2" cy="1017.8" r="3.4"/><circle cx="251.7" cy="955.0" r="3.4"/><circle cx="214.6" cy="1012.6" r="3.4"/><circle cx="261.5" cy="1039.9" r="3.4"/><circle cx="147.1" cy="1003.7" r="3.4"/><circle cx="199.5" cy="992.6" r="3.4"/><circle cx="242.0" cy="1026.3" r="3.4"/><circle cx="277.7" cy="951.1" r="3.4"/><circle cx="247.7" cy="964.8" r="3.4"/><circle cx="169.3" cy="1016.5" r="3.4"/><circle cx="156.4" cy="1041.0" r="3.4"/><circle cx="228.1" cy="1025.4" r="3.4"/><circle cx="203.7" cy="1023.8" r="3.4"/><circle cx="174.7" cy="1038.6" r="3.4"/><circle cx="183.6" cy="996.0" r="3.4"/><circle cx="173.0" cy="972.3" r="3.4"/><circle cx="287.2" cy="995.5" r="3.4"/><circle cx="176.7" cy="958.8" r="3.4"/><circle cx="202.6" cy="1031.8" r="3.4"/><circle cx="213.3" cy="964.8" r="3.4"/><circle cx="284.0" cy="1055.5" r="3.4"/><circle cx="233.2" cy="1050.5" r="3.4"/><circle cx="265.3" cy="1019.5" r="3.4"/><circle cx="318.9" cy="965.8" r="3.4"/><circle cx="232.9" cy="1044.3" r="3.4"/><circle cx="256.3" cy="987.1" r="3.4"/><circle cx="195.4" cy="1021.9" r="3.4"/><circle cx="146.4" cy="1033.2" r="3.4"/><circle cx="259.3" cy="1030.8" r="3.4"/><circle cx="157.5" cy="993.5" r="3.4"/><circle cx="175.7" cy="1018.5" r="3.4"/><circle cx="121.6" cy="927.3" r="3.4"/><circle cx="112.8" cy="965.8" r="3.4"/><circle cx="130.1" cy="953.3" r="3.4"/><circle cx="129.1" cy="962.9" r="3.4"/><circle cx="137.5" cy="968.5" r="3.4"/><circle cx="139.5" cy="972.5" r="3.4"/><circle cx="132.2" cy="978.0" r="3.4"/><circle cx="134.7" cy="983.6" r="3.4"/><circle cx="129.1" cy="1001.5" r="3.4"/><circle cx="131.7" cy="1005.6" r="3.4"/><circle cx="130.7" cy="1009.2" r="3.4"/><circle cx="125.0" cy="1024.0" r="3.4"/><circle cx="128.6" cy="1020.9" r="3.4"/><circle cx="136.8" cy="1014.3" r="3.4"/><circle cx="135.8" cy="1020.4" r="3.4"/><circle cx="138.3" cy="1023.5" r="3.4"/><circle cx="125.5" cy="1049.6" r="3.4"/><circle cx="137.8" cy="1050.6" r="3.4"/><circle cx="130.1" cy="1060.8" r="3.4"/><circle cx="132.5" cy="1066.2" r="3.4"/><circle cx="348.9" cy="939.3" r="3.4"/><circle cx="348.1" cy="947.5" r="3.4"/><circle cx="355.2" cy="947.3" r="3.4"/><circle cx="381.2" cy="951.0" r="3.4"/><circle cx="385.7" cy="953.6" r="3.4"/><circle cx="389.4" cy="953.6" r="3.4"/><circle cx="386.3" cy="957.1" r="3.4"/><circle cx="391.0" cy="963.9" r="3.4"/><circle cx="385.9" cy="965.9" r="3.4"/><circle cx="345.4" cy="966.7" r="3.4"/><circle cx="354.6" cy="974.5" r="3.4"/><circle cx="362.8" cy="974.9" r="3.4"/><circle cx="365.9" cy="974.5" r="3.4"/><circle cx="377.1" cy="976.1" r="3.4"/><circle cx="347.1" cy="981.6" r="3.4"/><circle cx="363.4" cy="983.7" r="3.4"/><circle cx="376.1" cy="981.6" r="3.4"/><circle cx="374.0" cy="985.7" r="3.4"/><circle cx="368.9" cy="988.4" r="3.4"/><circle cx="379.2" cy="987.8" r="3.4"/><circle cx="387.3" cy="984.7" r="3.4"/><circle cx="392.4" cy="983.3" r="3.4"/><circle cx="398.6" cy="987.8" r="3.4"/><circle cx="411.2" cy="982.7" r="3.4"/><circle cx="417.0" cy="988.8" r="3.4"/><circle cx="349.5" cy="992.9" r="3.4"/><circle cx="390.4" cy="993.9" r="3.4"/><circle cx="400.6" cy="994.5" r="3.4"/><circle cx="351.2" cy="996.1" r="3.4"/><circle cx="347.2" cy="1002.3" r="3.4"/><circle cx="358.4" cy="998.2" r="3.4"/><circle cx="359.4" cy="1001.2" r="3.4"/><circle cx="362.1" cy="1004.7" r="3.4"/><circle cx="418.7" cy="997.8" r="3.4"/><circle cx="429.9" cy="1001.2" r="3.4"/><circle cx="382.5" cy="1002.7" r="3.4"/><circle cx="402.9" cy="1003.9" r="3.4"/><circle cx="347.8" cy="1012.1" r="3.4"/><circle cx="371.7" cy="1009.4" r="3.4"/><circle cx="373.7" cy="1011.5" r="3.4"/><circle cx="376.8" cy="1010.4" r="3.4"/><circle cx="392.7" cy="1007.4" r="3.4"/><circle cx="391.5" cy="1015.5" r="3.4"/><circle cx="394.2" cy="1020.7" r="3.4"/><circle cx="349.2" cy="1018.6" r="3.4"/><circle cx="354.3" cy="1018.6" r="3.4"/><circle cx="358.4" cy="1021.1" r="3.4"/><circle cx="371.7" cy="1019.6" r="3.4"/><circle cx="378.8" cy="1023.1" r="3.4"/><circle cx="385.4" cy="1022.3" r="3.4"/><circle cx="387.0" cy="1024.7" r="3.4"/><circle cx="385.0" cy="1027.8" r="3.4"/><circle cx="382.9" cy="1030.9" r="3.4"/><circle cx="381.9" cy="1033.3" r="3.4"/><circle cx="412.6" cy="1021.7" r="3.4"/><circle cx="351.2" cy="1026.8" r="3.4"/><circle cx="360.4" cy="1028.8" r="3.4"/><circle cx="359.4" cy="1031.9" r="3.4"/><circle cx="370.7" cy="1026.4" r="3.4"/><circle cx="369.6" cy="1032.9" r="3.4"/><circle cx="402.9" cy="1031.3" r="3.4"/><circle cx="420.1" cy="1034.6" r="3.4"/><circle cx="353.3" cy="1036.0" r="3.4"/><circle cx="356.4" cy="1039.0" r="3.4"/><circle cx="352.3" cy="1040.1" r="3.4"/><circle cx="348.2" cy="1042.1" r="3.4"/><circle cx="350.2" cy="1043.5" r="3.4"/><circle cx="356.4" cy="1044.2" r="3.4"/><circle cx="365.5" cy="1041.1" r="3.4"/><circle cx="370.7" cy="1040.1" r="3.4"/><circle cx="378.4" cy="1039.5" r="3.4"/><circle cx="394.8" cy="1040.7" r="3.4"/><circle cx="412.6" cy="1043.8" r="3.4"/><circle cx="355.9" cy="1050.3" r="3.4"/><circle cx="367.6" cy="1048.7" r="3.4"/><circle cx="382.9" cy="1050.3" r="3.4"/><circle cx="372.7" cy="1055.8" r="3.4"/><circle cx="350.2" cy="1059.5" r="3.4"/><circle cx="353.3" cy="1059.1" r="3.4"/><circle cx="358.0" cy="1057.9" r="3.4"/><circle cx="379.9" cy="1065.0" r="3.4"/><circle cx="345.7" cy="1072.8" r="3.4"/><circle cx="355.5" cy="923.8" r="3.4"/><circle cx="401.3" cy="923.0" r="3.4"/><circle cx="408.1" cy="942.5" r="3.4"/><circle cx="450.8" cy="946.8" r="3.4"/><circle cx="459.7" cy="942.8" r="3.4"/><circle cx="388.5" cy="953.0" r="3.4"/><circle cx="381.2" cy="951.0" r="3.4"/><circle cx="491.3" cy="962.3" r="3.4"/><circle cx="531.8" cy="966.2" r="3.4"/><circle cx="450.0" cy="994.3" r="3.4"/><circle cx="461.7" cy="992.9" r="3.4"/><circle cx="463.4" cy="1003.4" r="3.4"/><circle cx="460.0" cy="1009.9" r="3.4"/><circle cx="465.4" cy="1014.6" r="3.4"/><circle cx="481.8" cy="1015.1" r="3.4"/><circle cx="440.2" cy="1017.8" r="3.4"/><circle cx="520.9" cy="1026.1" r="3.4"/><circle cx="435.0" cy="1036.2" r="3.4"/><circle cx="458.4" cy="1032.7" r="3.4"/><circle cx="464.2" cy="1034.6" r="3.4"/><circle cx="461.9" cy="1037.8" r="3.4"/><circle cx="457.9" cy="1042.0" r="3.4"/><circle cx="458.4" cy="1044.8" r="3.4"/><circle cx="488.8" cy="1038.1" r="3.4"/><circle cx="429.2" cy="1051.9" r="3.4"/><circle cx="442.0" cy="1057.7" r="3.4"/><circle cx="462.6" cy="1055.6" r="3.4"/><circle cx="461.4" cy="1062.6" r="3.4"/><circle cx="417.5" cy="1061.2" r="3.4"/><circle cx="423.4" cy="1061.2" r="3.4"/><circle cx="441.6" cy="1078.3" r="3.4"/><circle cx="411.2" cy="1090.6" r="3.4"/><circle cx="407.7" cy="1097.6" r="3.4"/><circle cx="615.9" cy="1065.0" r="3.4"/><circle cx="358.0" cy="1115.8" r="3.4"/><circle cx="371.6" cy="1090.5" r="3.4"/><circle cx="395.2" cy="1090.5" r="3.4"/><circle cx="189.0" cy="908.4" r="3.4"/><circle cx="154.0" cy="927.6" r="3.4"/><circle cx="150.1" cy="933.7" r="3.4"/><circle cx="163.3" cy="931.8" r="3.4"/><circle cx="168.9" cy="922.5" r="3.4"/><circle cx="172.9" cy="922.5" r="3.4"/><circle cx="179.4" cy="919.3" r="3.4"/><circle cx="187.4" cy="920.1" r="3.4"/><circle cx="190.6" cy="931.8" r="3.4"/><circle cx="189.8" cy="935.3" r="3.4"/><circle cx="195.4" cy="941.0" r="3.4"/><circle cx="162.5" cy="944.6" r="3.4"/><circle cx="203.1" cy="930.8" r="3.4"/><circle cx="210.2" cy="927.3" r="3.4"/><circle cx="212.8" cy="931.3" r="3.4"/><circle cx="213.6" cy="935.7" r="3.4"/><circle cx="217.9" cy="940.1" r="3.4"/><circle cx="224.0" cy="935.3" r="3.4"/><circle cx="230.3" cy="924.9" r="3.4"/><circle cx="238.3" cy="932.1" r="3.4"/><circle cx="242.8" cy="941.0" r="3.4"/><circle cx="214.7" cy="945.8" r="3.4"/><circle cx="218.7" cy="947.4" r="3.4"/><circle cx="229.1" cy="949.8" r="3.4"/><circle cx="251.6" cy="912.5" r="3.4"/><circle cx="249.3" cy="921.4" r="3.4"/><circle cx="268.1" cy="916.4" r="3.4"/><circle cx="315.2" cy="921.2" r="3.4"/><circle cx="274.5" cy="933.4" r="3.4"/><circle cx="290.6" cy="926.5" r="3.4"/><circle cx="296.2" cy="925.4" r="3.4"/><circle cx="300.7" cy="930.5" r="3.4"/><circle cx="255.3" cy="936.6" r="3.4"/><circle cx="260.9" cy="938.5" r="3.4"/><circle cx="243.5" cy="941.0" r="3.4"/><circle cx="310.7" cy="934.5" r="3.4"/><circle cx="313.9" cy="934.0" r="3.4"/><circle cx="309.1" cy="938.5" r="3.4"/><circle cx="283.4" cy="944.6" r="3.4"/><circle cx="286.6" cy="948.2" r="3.4"/><circle cx="297.8" cy="942.1" r="3.4"/><circle cx="301.8" cy="946.6" r="3.4"/><circle cx="305.8" cy="945.8" r="3.4"/><circle cx="309.9" cy="945.0" r="3.4"/><circle cx="317.9" cy="944.6" r="3.4"/><circle cx="326.7" cy="942.6" r="3.4"/><circle cx="329.9" cy="941.4" r="3.4"/><circle cx="248.0" cy="946.6" r="3.4"/><circle cx="252.0" cy="947.9" r="3.4"/><circle cx="260.9" cy="945.8" r="3.4"/><circle cx="143.2" cy="1071.7" r="3.4"/><circle cx="146.9" cy="1081.8" r="3.4"/><circle cx="168.9" cy="1072.2" r="3.4"/><circle cx="174.2" cy="1080.2" r="3.4"/><circle cx="181.0" cy="1076.0" r="3.4"/><circle cx="187.4" cy="1083.4" r="3.4"/><circle cx="196.2" cy="1074.9" r="3.4"/><circle cx="196.2" cy="1080.2" r="3.4"/><circle cx="203.4" cy="1075.7" r="3.4"/><circle cx="203.4" cy="1079.2" r="3.4"/><circle cx="209.9" cy="1070.9" r="3.4"/><circle cx="213.1" cy="1074.1" r="3.4"/><circle cx="216.3" cy="1078.9" r="3.4"/><circle cx="196.7" cy="1090.1" r="3.4"/><circle cx="203.4" cy="1089.8" r="3.4"/><circle cx="213.9" cy="1086.6" r="3.4"/><circle cx="220.3" cy="1086.1" r="3.4"/><circle cx="225.1" cy="1096.6" r="3.4"/><circle cx="224.0" cy="1072.5" r="3.4"/><circle cx="224.3" cy="1074.9" r="3.4"/><circle cx="233.6" cy="1078.6" r="3.4"/><circle cx="242.8" cy="1086.6" r="3.4"/><circle cx="245.2" cy="1078.9" r="3.4"/><circle cx="246.4" cy="1078.6" r="3.4"/><circle cx="255.3" cy="1071.7" r="3.4"/><circle cx="259.3" cy="1069.3" r="3.4"/><circle cx="264.1" cy="1068.5" r="3.4"/><circle cx="262.5" cy="1078.1" r="3.4"/><circle cx="269.2" cy="1072.5" r="3.4"/><circle cx="268.6" cy="1085.7" r="3.4"/><circle cx="258.9" cy="1093.4" r="3.4"/><circle cx="275.0" cy="1068.0" r="3.4"/><circle cx="281.0" cy="1074.9" r="3.4"/><circle cx="289.8" cy="1083.7" r="3.4"/><circle cx="297.8" cy="1076.0" r="3.4"/><circle cx="303.4" cy="1069.3" r="3.4"/><circle cx="303.9" cy="1072.5" r="3.4"/><circle cx="303.0" cy="1081.8" r="3.4"/><circle cx="300.7" cy="1095.8" r="3.4"/><circle cx="297.8" cy="1103.0" r="3.4"/><circle cx="307.1" cy="1092.6" r="3.4"/><circle cx="315.2" cy="1092.1" r="3.4"/><circle cx="324.8" cy="1093.4" r="3.4"/><circle cx="328.3" cy="1070.1" r="3.4"/><circle cx="328.3" cy="1074.4" r="3.4"/><circle cx="336.0" cy="1086.9" r="3.4"/><circle cx="339.6" cy="1092.1" r="3.4"/><circle cx="250.4" cy="1107.5" r="3.4"/><circle cx="291.4" cy="1106.5" r="3.4"/><circle cx="165.3" cy="1124.8" r="3.4"/><circle cx="203.4" cy="1139.5" r="3.4"/></g>
<g clip-path="url(#clipC)"><ellipse cx="257.44" cy="1009.01" rx="179.92" ry="92.96" transform="rotate(2.361 257.44 1009.01)" fill="none" stroke="#007800" stroke-width="2.3"/></g>
<line x1="274.3" y1="875.2" x2="94.7" y2="918.4" stroke="#111" stroke-width="2.1" stroke-dasharray="5.4 3.8"/>
<text transform="translate(110.2,906.6) rotate(-13.8)" font-size="17" font-weight="bold" fill="#111" font-family="Liberation Sans, sans-serif">WTP=4275</text>
<text x="380.8" y="1217.6" text-anchor="middle" font-size="12.3" font-weight="bold" fill="#111" font-family="Liberation Sans, sans-serif" textLength="196" lengthAdjust="spacingAndGlyphs">Incremental Effectiveness (QALY)</text>
<text transform="translate(12.6,1041.7) rotate(-90)" text-anchor="middle" font-size="11.6" font-weight="bold" fill="#111" font-family="Liberation Sans, sans-serif" textLength="111.3" lengthAdjust="spacingAndGlyphs">Incremental Cost ($)</text>
<text transform="translate(0.84,883.6) scale(0.903,1.069)" font-size="46.5" fill="#000" font-family="Liberation Sans, sans-serif">C</text>
</svg></body></html>
